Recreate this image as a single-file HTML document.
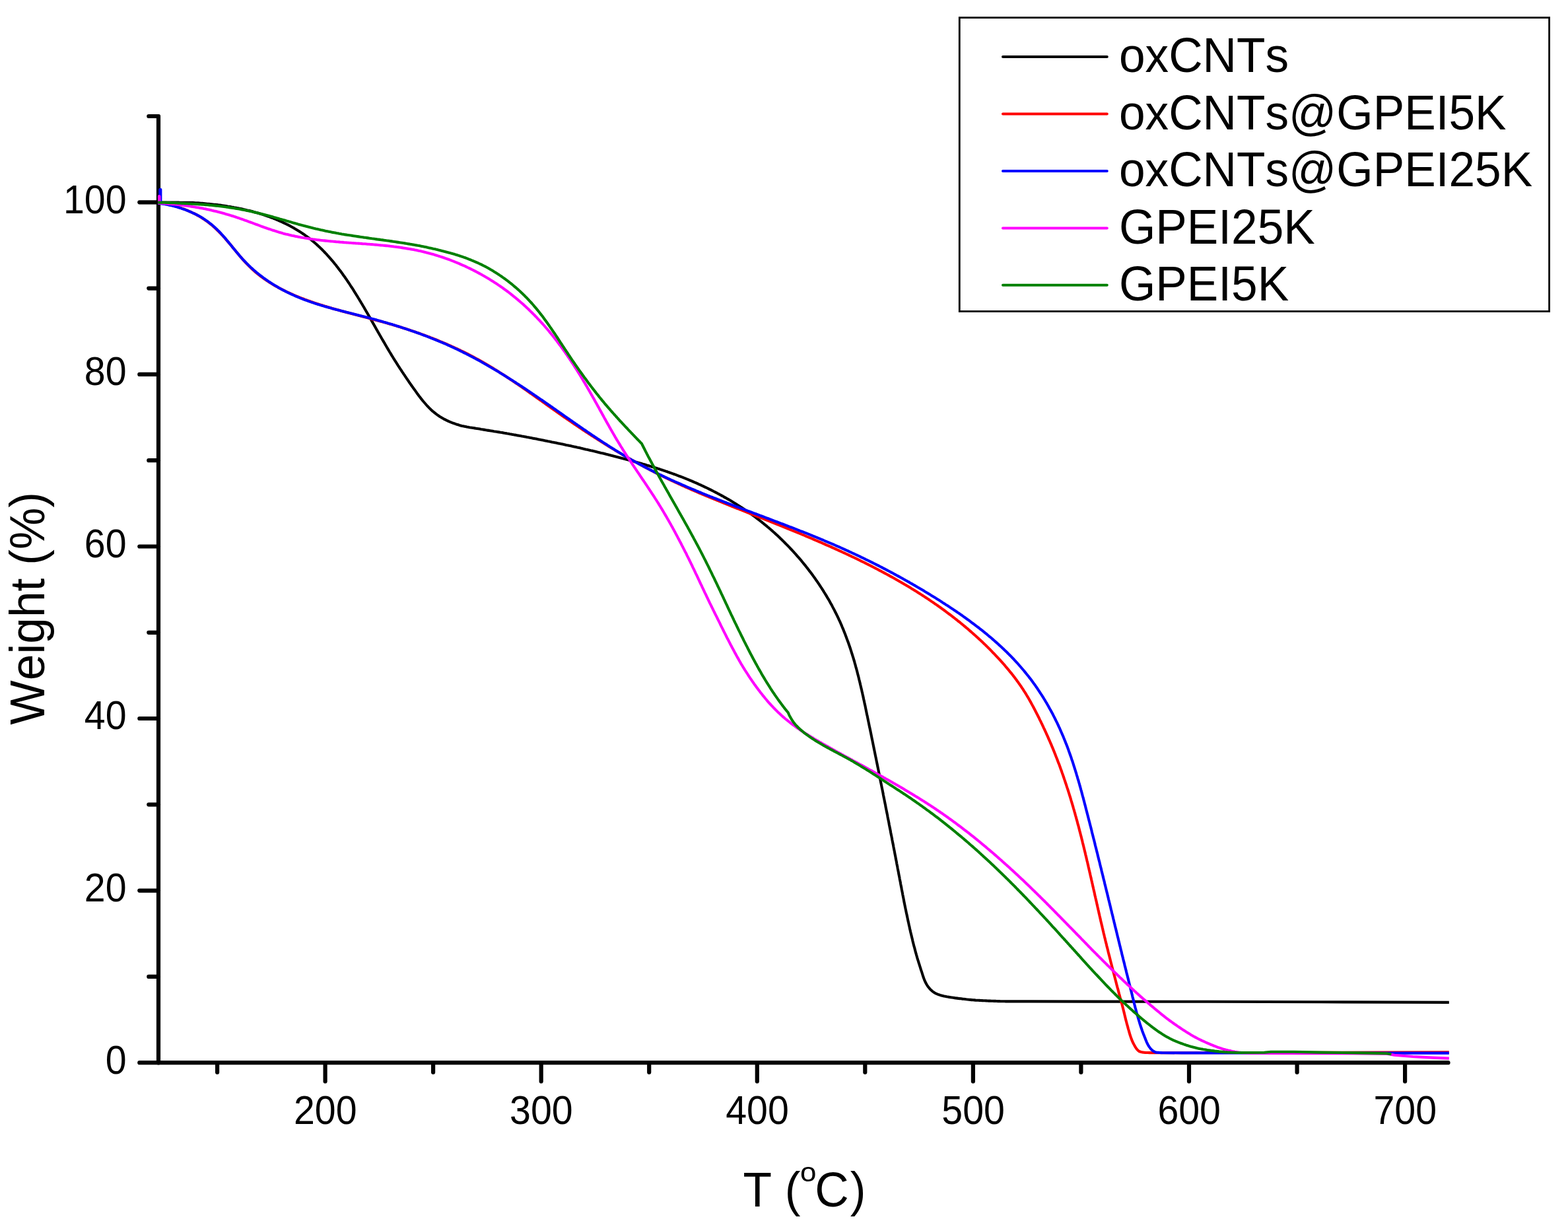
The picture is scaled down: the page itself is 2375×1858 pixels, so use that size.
<!DOCTYPE html>
<html lang="en"><head><meta charset="utf-8"><title>TGA curves</title>
<style>html,body{margin:0;padding:0;background:#fff}body{width:2375px;height:1858px}svg{display:block}text{font-family:"Liberation Sans", Arial, Helvetica, sans-serif;fill:#000;font-kerning:none;font-variant-ligatures:none;letter-spacing:0}.tk{font-size:57.3px}.tt{font-size:71.3px}.lg{font-size:71.2px}.ax{stroke:#000;stroke-width:6.2;stroke-linecap:round;fill:none}.cv{fill:none;stroke-width:4.1;stroke-linejoin:round;stroke-linecap:butt}.ls{fill:none;stroke-width:4;stroke-linecap:round}</style></head><body>
<svg width="2375" height="1858" viewBox="0 0 2375 1858" role="img" aria-label="TGA weight loss curves">
<rect x="0" y="0" width="2375" height="1858" fill="#ffffff"/>
<g class="ax">
<path d="M240.0,176.4 L240.0,1609.2"/>
<path d="M240.0,1609.2 L2193.5,1609.2"/>
<path d="M211.3,1609.2 L240.0,1609.2"/>
<path d="M225.3,1478.9 L240.0,1478.9"/>
<path d="M211.3,1348.6 L240.0,1348.6"/>
<path d="M225.3,1218.3 L240.0,1218.3"/>
<path d="M211.3,1088.0 L240.0,1088.0"/>
<path d="M225.3,957.8 L240.0,957.8"/>
<path d="M211.3,827.5 L240.0,827.5"/>
<path d="M225.3,697.2 L240.0,697.2"/>
<path d="M211.3,566.9 L240.0,566.9"/>
<path d="M225.3,436.6 L240.0,436.6"/>
<path d="M211.3,306.3 L240.0,306.3"/>
<path d="M225.3,176.0 L240.0,176.0"/>
<path d="M329.1,1609.2 L329.1,1623.7"/>
<path d="M492.6,1609.2 L492.6,1637.4"/>
<path d="M656.1,1609.2 L656.1,1623.7"/>
<path d="M819.7,1609.2 L819.7,1637.4"/>
<path d="M983.2,1609.2 L983.2,1623.7"/>
<path d="M1146.8,1609.2 L1146.8,1637.4"/>
<path d="M1310.3,1609.2 L1310.3,1623.7"/>
<path d="M1473.9,1609.2 L1473.9,1637.4"/>
<path d="M1637.4,1609.2 L1637.4,1623.7"/>
<path d="M1801.0,1609.2 L1801.0,1637.4"/>
<path d="M1964.6,1609.2 L1964.6,1623.7"/>
<path d="M2128.1,1609.2 L2128.1,1637.4"/>
</g>
<g>
<path class="cv" stroke="#000000" d="M239.2,306.6 L241.1,306.6 L243.0,306.6 L244.9,306.6 L246.9,306.6 L248.8,306.6 L250.8,306.6 L252.7,306.6 L254.6,306.6 L256.6,306.6 L258.5,306.6 L260.5,306.6 L262.5,306.6 L264.4,306.6 L266.4,306.6 L268.3,306.6 L270.3,306.6 L272.3,306.7 L274.3,306.7 L276.2,306.7 L278.2,306.7 L280.2,306.7 L282.2,306.7 L284.2,306.7 L286.2,306.7 L288.2,306.8 L290.2,306.9 L292.2,306.9 L294.2,307.0 L296.2,307.2 L298.2,307.3 L300.2,307.4 L302.3,307.6 L304.3,307.8 L306.3,307.9 L308.4,308.1 L310.4,308.3 L312.4,308.5 L314.4,308.7 L316.5,308.9 L318.5,309.1 L320.5,309.3 L322.5,309.5 L324.5,309.7 L326.6,309.9 L328.6,310.1 L330.6,310.4 L332.6,310.6 L334.7,310.9 L336.7,311.2 L338.7,311.5 L340.7,311.8 L342.7,312.1 L344.8,312.5 L346.8,312.8 L348.8,313.1 L350.8,313.5 L352.8,313.8 L354.8,314.2 L356.8,314.5 L358.8,314.9 L360.8,315.3 L362.8,315.7 L364.8,316.1 L366.8,316.5 L368.8,317.0 L370.8,317.4 L372.7,317.9 L374.7,318.4 L376.7,318.8 L378.6,319.3 L380.6,319.8 L382.5,320.3 L384.5,320.9 L386.4,321.4 L388.4,322.0 L390.3,322.5 L392.2,323.1 L394.2,323.7 L396.1,324.3 L398.0,324.9 L399.9,325.5 L401.8,326.2 L403.7,326.8 L405.6,327.5 L407.5,328.1 L409.4,328.8 L411.2,329.5 L413.1,330.2 L414.9,331.0 L416.8,331.7 L418.6,332.5 L420.4,333.2 L422.3,334.0 L424.1,334.8 L425.9,335.6 L427.7,336.4 L429.5,337.3 L431.3,338.1 L433.0,339.0 L434.8,339.8 L436.6,340.7 L438.3,341.6 L440.0,342.6 L441.8,343.5 L443.5,344.5 L445.2,345.4 L446.9,346.4 L448.6,347.4 L450.3,348.4 L451.9,349.4 L453.6,350.5 L455.2,351.5 L456.9,352.6 L458.5,353.7 L460.1,354.8 L461.7,355.9 L463.3,357.1 L464.9,358.2 L466.4,359.4 L468.0,360.5 L469.5,361.7 L471.1,363.0 L472.6,364.2 L474.1,365.4 L475.6,366.7 L477.1,368.0 L478.6,369.3 L480.0,370.6 L481.5,371.9 L482.9,373.3 L484.3,374.6 L485.8,376.0 L487.2,377.3 L488.6,378.7 L490.0,380.1 L491.3,381.5 L492.7,383.0 L494.1,384.4 L495.4,385.9 L496.7,387.3 L498.1,388.8 L499.4,390.3 L500.7,391.8 L502.0,393.3 L503.3,394.8 L504.6,396.4 L505.9,397.9 L507.1,399.5 L508.4,401.0 L509.6,402.6 L510.9,404.2 L512.1,405.8 L513.3,407.4 L514.5,409.0 L515.8,410.6 L517.0,412.2 L518.2,413.9 L519.3,415.5 L520.5,417.2 L521.7,418.8 L522.9,420.5 L524.0,422.1 L525.2,423.8 L526.3,425.5 L527.5,427.2 L528.6,428.8 L529.7,430.5 L530.8,432.3 L531.9,434.0 L533.1,435.7 L534.2,437.4 L535.3,439.1 L536.3,440.9 L537.4,442.6 L538.5,444.3 L539.6,446.1 L540.7,447.8 L541.7,449.5 L542.8,451.3 L543.9,453.0 L544.9,454.8 L546.0,456.5 L547.0,458.3 L548.1,460.0 L549.1,461.8 L550.1,463.5 L551.2,465.3 L552.2,467.1 L553.2,468.8 L554.2,470.6 L555.2,472.3 L556.3,474.1 L557.3,475.9 L558.3,477.6 L559.3,479.4 L560.3,481.1 L561.3,482.9 L562.3,484.6 L563.3,486.4 L564.3,488.1 L565.3,489.9 L566.3,491.6 L567.3,493.4 L568.3,495.1 L569.2,496.8 L570.2,498.6 L571.2,500.3 L572.2,502.1 L573.2,503.8 L574.2,505.5 L575.2,507.3 L576.2,509.0 L577.2,510.7 L578.2,512.5 L579.2,514.2 L580.2,515.9 L581.2,517.6 L582.2,519.3 L583.2,521.1 L584.2,522.8 L585.2,524.5 L586.2,526.2 L587.2,527.9 L588.2,529.6 L589.2,531.3 L590.2,533.0 L591.3,534.7 L592.3,536.4 L593.3,538.1 L594.4,539.8 L595.4,541.5 L596.4,543.2 L597.5,544.9 L598.6,546.6 L599.6,548.2 L600.7,549.9 L601.8,551.6 L602.8,553.3 L603.9,554.9 L605.0,556.6 L606.1,558.3 L607.2,559.9 L608.3,561.6 L609.4,563.3 L610.5,564.9 L611.6,566.6 L612.7,568.2 L613.8,569.9 L614.9,571.5 L616.0,573.2 L617.2,574.8 L618.3,576.5 L619.4,578.1 L620.5,579.8 L621.7,581.4 L622.8,583.0 L624.0,584.7 L625.1,586.3 L626.3,587.9 L627.4,589.5 L628.6,591.1 L629.7,592.7 L630.9,594.4 L632.0,596.0 L633.2,597.6 L634.4,599.2 L635.6,600.7 L636.8,602.3 L638.0,603.9 L639.3,605.4 L640.5,607.0 L641.8,608.5 L643.1,610.0 L644.4,611.5 L645.7,613.0 L647.0,614.5 L648.4,615.9 L649.8,617.4 L651.2,618.8 L652.7,620.2 L654.1,621.6 L655.6,622.9 L657.2,624.1 L658.7,625.4 L660.3,626.7 L661.9,627.9 L663.5,629.0 L665.2,630.2 L666.9,631.3 L668.6,632.3 L670.3,633.3 L672.0,634.3 L673.8,635.2 L675.6,636.1 L677.4,637.0 L679.3,637.8 L681.1,638.6 L682.9,639.3 L684.8,640.1 L686.6,640.8 L688.5,641.4 L690.3,642.1 L692.2,642.7 L694.1,643.3 L696.0,643.9 L697.8,644.4 L699.7,644.9 L701.6,645.3 L703.5,645.7 L705.4,646.1 L707.3,646.5 L709.3,646.8 L711.2,647.2 L713.1,647.5 L715.0,647.8 L716.9,648.1 L718.9,648.4 L720.8,648.7 L722.7,649.0 L724.7,649.3 L726.6,649.6 L728.6,650.0 L730.5,650.3 L732.5,650.6 L734.5,650.9 L736.4,651.3 L738.4,651.6 L740.4,651.9 L742.4,652.2 L744.3,652.5 L746.3,652.8 L748.3,653.2 L750.3,653.5 L752.3,653.8 L754.3,654.1 L756.3,654.4 L758.3,654.8 L760.2,655.1 L762.2,655.4 L764.2,655.8 L766.2,656.1 L768.2,656.5 L770.2,656.8 L772.2,657.2 L774.2,657.5 L776.2,657.9 L778.2,658.3 L780.2,658.6 L782.2,659.0 L784.2,659.4 L786.3,659.7 L788.3,660.1 L790.3,660.5 L792.3,660.8 L794.3,661.2 L796.3,661.6 L798.3,662.0 L800.3,662.3 L802.3,662.7 L804.3,663.1 L806.3,663.5 L808.3,663.9 L810.3,664.2 L812.3,664.6 L814.2,665.0 L816.2,665.4 L818.2,665.8 L820.2,666.2 L822.2,666.6 L824.2,667.0 L826.2,667.4 L828.2,667.8 L830.2,668.2 L832.1,668.5 L834.1,668.9 L836.1,669.4 L838.1,669.8 L840.1,670.2 L842.1,670.6 L844.0,671.0 L846.0,671.4 L848.0,671.8 L850.0,672.2 L851.9,672.6 L853.9,673.0 L855.9,673.4 L857.8,673.9 L859.8,674.3 L861.8,674.7 L863.7,675.1 L865.7,675.6 L867.7,676.0 L869.6,676.4 L871.6,676.8 L873.5,677.3 L875.5,677.7 L877.5,678.1 L879.4,678.6 L881.4,679.0 L883.3,679.5 L885.3,679.9 L887.2,680.4 L889.2,680.8 L891.1,681.3 L893.1,681.7 L895.0,682.2 L897.0,682.6 L898.9,683.1 L900.9,683.5 L902.8,684.0 L904.8,684.5 L906.7,684.9 L908.6,685.4 L910.6,685.9 L912.5,686.3 L914.5,686.8 L916.4,687.3 L918.3,687.8 L920.3,688.2 L922.2,688.7 L924.1,689.2 L926.0,689.7 L928.0,690.2 L929.9,690.7 L931.8,691.2 L933.7,691.7 L935.7,692.2 L937.6,692.7 L939.5,693.2 L941.4,693.7 L943.4,694.2 L945.3,694.7 L947.2,695.2 L949.1,695.7 L951.0,696.2 L952.9,696.8 L954.8,697.3 L956.8,697.8 L958.7,698.3 L960.6,698.9 L962.5,699.4 L964.4,699.9 L966.3,700.5 L968.2,701.0 L970.1,701.6 L972.0,702.1 L973.9,702.7 L975.8,703.2 L977.7,703.8 L979.6,704.4 L981.5,704.9 L983.4,705.5 L985.3,706.1 L987.2,706.7 L989.1,707.2 L991.0,707.8 L992.8,708.4 L994.7,709.0 L996.6,709.6 L998.5,710.2 L1000.4,710.9 L1002.3,711.5 L1004.2,712.1 L1006.0,712.7 L1007.9,713.4 L1009.8,714.0 L1011.7,714.7 L1013.5,715.3 L1015.4,716.0 L1017.3,716.6 L1019.2,717.3 L1021.0,718.0 L1022.9,718.7 L1024.8,719.4 L1026.6,720.1 L1028.5,720.8 L1030.4,721.5 L1032.2,722.2 L1034.1,722.9 L1036.0,723.7 L1037.8,724.4 L1039.7,725.2 L1041.5,725.9 L1043.4,726.7 L1045.3,727.5 L1047.1,728.2 L1049.0,729.0 L1050.8,729.8 L1052.7,730.6 L1054.5,731.4 L1056.3,732.2 L1058.2,733.1 L1060.0,733.9 L1061.8,734.7 L1063.7,735.6 L1065.5,736.4 L1067.3,737.3 L1069.2,738.2 L1071.0,739.0 L1072.8,739.9 L1074.6,740.8 L1076.4,741.7 L1078.2,742.6 L1080.0,743.5 L1081.8,744.5 L1083.6,745.4 L1085.4,746.3 L1087.2,747.3 L1089.0,748.2 L1090.7,749.2 L1092.5,750.1 L1094.3,751.1 L1096.0,752.1 L1097.8,753.1 L1099.6,754.1 L1101.3,755.1 L1103.1,756.1 L1104.8,757.1 L1106.5,758.1 L1108.2,759.1 L1110.0,760.2 L1111.7,761.2 L1113.4,762.3 L1115.1,763.3 L1116.8,764.4 L1118.5,765.5 L1120.2,766.5 L1121.9,767.6 L1123.6,768.7 L1125.2,769.8 L1126.9,770.9 L1128.5,772.1 L1130.2,773.2 L1131.8,774.3 L1133.5,775.4 L1135.1,776.6 L1136.7,777.7 L1138.3,778.9 L1140.0,780.1 L1141.6,781.3 L1143.2,782.4 L1144.8,783.6 L1146.3,784.8 L1147.9,786.0 L1149.5,787.2 L1151.1,788.5 L1152.6,789.7 L1154.2,790.9 L1155.7,792.2 L1157.3,793.4 L1158.8,794.7 L1160.3,795.9 L1161.9,797.2 L1163.4,798.5 L1164.9,799.7 L1166.4,801.0 L1167.9,802.3 L1169.4,803.6 L1170.9,805.0 L1172.4,806.3 L1173.8,807.6 L1175.3,808.9 L1176.8,810.3 L1178.2,811.6 L1179.7,813.0 L1181.1,814.3 L1182.5,815.7 L1184.0,817.1 L1185.4,818.5 L1186.8,819.9 L1188.2,821.3 L1189.6,822.7 L1191.0,824.1 L1192.4,825.5 L1193.8,826.9 L1195.2,828.4 L1196.6,829.8 L1197.9,831.3 L1199.3,832.7 L1200.6,834.2 L1202.0,835.6 L1203.3,837.1 L1204.7,838.6 L1206.0,840.1 L1207.3,841.6 L1208.6,843.1 L1210.0,844.6 L1211.3,846.1 L1212.6,847.7 L1213.9,849.2 L1215.1,850.7 L1216.4,852.3 L1217.7,853.8 L1218.9,855.4 L1220.2,856.9 L1221.4,858.5 L1222.7,860.1 L1223.9,861.7 L1225.1,863.3 L1226.3,864.9 L1227.6,866.5 L1228.8,868.1 L1230.0,869.7 L1231.2,871.3 L1232.3,872.9 L1233.5,874.6 L1234.7,876.2 L1235.8,877.9 L1237.0,879.5 L1238.1,881.1 L1239.3,882.8 L1240.4,884.5 L1241.5,886.1 L1242.6,887.8 L1243.7,889.5 L1244.8,891.2 L1245.9,892.9 L1247.0,894.6 L1248.0,896.3 L1249.1,898.0 L1250.1,899.7 L1251.2,901.4 L1252.2,903.1 L1253.2,904.9 L1254.3,906.6 L1255.3,908.3 L1256.3,910.1 L1257.2,911.8 L1258.2,913.6 L1259.2,915.3 L1260.2,917.1 L1261.1,918.9 L1262.0,920.6 L1263.0,922.4 L1263.9,924.2 L1264.8,926.0 L1265.7,927.8 L1266.6,929.5 L1267.5,931.3 L1268.4,933.1 L1269.2,934.9 L1270.1,936.7 L1270.9,938.6 L1271.8,940.4 L1272.6,942.2 L1273.4,944.0 L1274.2,945.9 L1275.0,947.7 L1275.7,949.5 L1276.5,951.4 L1277.3,953.2 L1278.0,955.0 L1278.7,956.9 L1279.5,958.8 L1280.2,960.6 L1280.9,962.5 L1281.6,964.3 L1282.3,966.2 L1283.0,968.1 L1283.7,969.9 L1284.4,971.8 L1285.1,973.7 L1285.7,975.6 L1286.4,977.4 L1287.0,979.3 L1287.7,981.2 L1288.3,983.1 L1288.9,985.0 L1289.5,986.9 L1290.1,988.8 L1290.7,990.7 L1291.3,992.6 L1291.9,994.5 L1292.5,996.4 L1293.1,998.3 L1293.6,1000.2 L1294.2,1002.1 L1294.7,1004.1 L1295.3,1006.0 L1295.8,1007.9 L1296.3,1009.8 L1296.9,1011.8 L1297.4,1013.7 L1297.9,1015.6 L1298.4,1017.5 L1298.9,1019.5 L1299.4,1021.4 L1299.9,1023.3 L1300.4,1025.3 L1300.9,1027.2 L1301.3,1029.2 L1301.8,1031.1 L1302.3,1033.1 L1302.8,1035.0 L1303.2,1037.0 L1303.7,1038.9 L1304.1,1040.8 L1304.6,1042.8 L1305.1,1044.7 L1305.5,1046.7 L1306.0,1048.7 L1306.4,1050.6 L1306.8,1052.6 L1307.3,1054.5 L1307.7,1056.5 L1308.1,1058.4 L1308.6,1060.4 L1309.0,1062.3 L1309.4,1064.3 L1309.8,1066.3 L1310.3,1068.2 L1310.7,1070.2 L1311.1,1072.2 L1311.5,1074.1 L1311.9,1076.1 L1312.3,1078.0 L1312.7,1080.0 L1313.1,1082.0 L1313.6,1083.9 L1314.0,1085.9 L1314.4,1087.9 L1314.8,1089.8 L1315.2,1091.8 L1315.6,1093.7 L1316.0,1095.7 L1316.4,1097.7 L1316.8,1099.6 L1317.2,1101.6 L1317.7,1103.6 L1318.1,1105.5 L1318.5,1107.5 L1318.9,1109.4 L1319.3,1111.4 L1319.7,1113.4 L1320.1,1115.3 L1320.5,1117.3 L1320.9,1119.3 L1321.3,1121.2 L1321.7,1123.2 L1322.1,1125.1 L1322.5,1127.1 L1322.9,1129.1 L1323.3,1131.0 L1323.7,1133.0 L1324.1,1135.0 L1324.5,1136.9 L1324.9,1138.9 L1325.3,1140.8 L1325.7,1142.8 L1326.1,1144.8 L1326.5,1146.7 L1326.9,1148.7 L1327.3,1150.6 L1327.7,1152.6 L1328.1,1154.6 L1328.5,1156.5 L1328.9,1158.5 L1329.3,1160.5 L1329.7,1162.4 L1330.1,1164.4 L1330.5,1166.3 L1330.9,1168.3 L1331.3,1170.3 L1331.7,1172.2 L1332.1,1174.2 L1332.4,1176.1 L1332.8,1178.1 L1333.2,1180.1 L1333.6,1182.0 L1334.0,1184.0 L1334.4,1185.9 L1334.8,1187.9 L1335.2,1189.9 L1335.6,1191.8 L1336.0,1193.8 L1336.4,1195.7 L1336.8,1197.7 L1337.2,1199.6 L1337.6,1201.6 L1337.9,1203.6 L1338.3,1205.5 L1338.7,1207.5 L1339.1,1209.4 L1339.5,1211.4 L1339.9,1213.4 L1340.3,1215.3 L1340.7,1217.3 L1341.1,1219.2 L1341.4,1221.2 L1341.8,1223.2 L1342.2,1225.1 L1342.6,1227.1 L1343.0,1229.0 L1343.4,1231.0 L1343.8,1232.9 L1344.2,1234.9 L1344.5,1236.9 L1344.9,1238.8 L1345.3,1240.8 L1345.7,1242.7 L1346.1,1244.7 L1346.5,1246.7 L1346.8,1248.6 L1347.2,1250.6 L1347.6,1252.5 L1348.0,1254.5 L1348.4,1256.4 L1348.8,1258.4 L1349.1,1260.4 L1349.5,1262.3 L1349.9,1264.3 L1350.3,1266.2 L1350.7,1268.2 L1351.1,1270.1 L1351.4,1272.1 L1351.8,1274.1 L1352.2,1276.0 L1352.6,1278.0 L1353.0,1279.9 L1353.3,1281.9 L1353.7,1283.8 L1354.1,1285.8 L1354.5,1287.8 L1354.9,1289.7 L1355.2,1291.7 L1355.6,1293.6 L1356.0,1295.6 L1356.4,1297.5 L1356.7,1299.5 L1357.1,1301.5 L1357.5,1303.4 L1357.9,1305.4 L1358.2,1307.3 L1358.6,1309.3 L1359.0,1311.2 L1359.4,1313.2 L1359.7,1315.1 L1360.1,1317.1 L1360.5,1319.1 L1360.9,1321.0 L1361.2,1323.0 L1361.6,1324.9 L1362.0,1326.9 L1362.4,1328.8 L1362.7,1330.8 L1363.1,1332.8 L1363.5,1334.7 L1363.9,1336.7 L1364.2,1338.6 L1364.6,1340.6 L1365.0,1342.5 L1365.4,1344.5 L1365.7,1346.4 L1366.1,1348.4 L1366.5,1350.4 L1366.9,1352.3 L1367.2,1354.3 L1367.6,1356.2 L1368.0,1358.2 L1368.4,1360.1 L1368.8,1362.1 L1369.1,1364.0 L1369.5,1366.0 L1369.9,1368.0 L1370.3,1369.9 L1370.7,1371.9 L1371.1,1373.8 L1371.5,1375.8 L1371.9,1377.7 L1372.3,1379.7 L1372.7,1381.6 L1373.1,1383.6 L1373.6,1385.5 L1374.0,1387.5 L1374.4,1389.4 L1374.8,1391.4 L1375.2,1393.3 L1375.6,1395.3 L1376.1,1397.3 L1376.5,1399.2 L1376.9,1401.2 L1377.4,1403.1 L1377.8,1405.1 L1378.2,1407.0 L1378.7,1409.0 L1379.1,1411.0 L1379.6,1412.9 L1380.1,1414.9 L1380.5,1416.8 L1381.0,1418.8 L1381.5,1420.8 L1382.0,1422.8 L1382.4,1424.7 L1382.9,1426.7 L1383.4,1428.7 L1383.9,1430.7 L1384.4,1432.6 L1385.0,1434.6 L1385.5,1436.6 L1386.0,1438.5 L1386.5,1440.5 L1387.0,1442.4 L1387.6,1444.3 L1388.1,1446.3 L1388.7,1448.2 L1389.2,1450.1 L1389.8,1452.1 L1390.4,1454.0 L1391.0,1455.9 L1391.6,1457.8 L1392.2,1459.7 L1392.8,1461.6 L1393.4,1463.5 L1394.0,1465.4 L1394.6,1467.3 L1395.2,1469.2 L1395.9,1471.1 L1396.5,1473.0 L1397.1,1475.0 L1397.7,1476.9 L1398.3,1478.8 L1399.0,1480.7 L1399.7,1482.6 L1400.4,1484.4 L1401.2,1486.3 L1402.1,1488.0 L1403.0,1489.8 L1404.0,1491.5 L1405.1,1493.2 L1406.3,1494.8 L1407.6,1496.4 L1408.9,1497.9 L1410.3,1499.2 L1411.8,1500.6 L1413.4,1501.8 L1415.1,1503.0 L1416.8,1504.1 L1418.6,1504.9 L1420.4,1505.6 L1422.2,1506.3 L1424.2,1506.9 L1426.1,1507.4 L1428.1,1507.9 L1430.1,1508.4 L1432.0,1508.8 L1434.0,1509.2 L1436.0,1509.5 L1437.9,1509.9 L1439.9,1510.2 L1441.9,1510.5 L1443.9,1510.8 L1445.9,1511.1 L1447.8,1511.4 L1449.8,1511.6 L1451.8,1511.9 L1453.8,1512.1 L1455.8,1512.3 L1457.8,1512.6 L1459.8,1512.8 L1461.8,1513.0 L1463.7,1513.3 L1465.7,1513.5 L1467.7,1513.7 L1469.7,1513.9 L1471.7,1514.1 L1473.7,1514.3 L1475.7,1514.4 L1477.7,1514.6 L1479.7,1514.7 L1481.7,1514.8 L1483.7,1514.9 L1485.7,1515.0 L1487.7,1515.1 L1489.7,1515.2 L1491.7,1515.3 L1493.7,1515.4 L1495.7,1515.5 L1497.7,1515.6 L1499.7,1515.6 L1501.7,1515.7 L1503.7,1515.8 L1505.7,1515.9 L1507.6,1515.9 L1509.6,1516.0 L1511.6,1516.1 L1513.6,1516.1 L1515.6,1516.2 L1517.6,1516.2 L1519.6,1516.3 L1521.6,1516.3 L1523.2,1516.4 L1560.0,1516.4 L1660.0,1516.6 L1830.0,1516.8 L2000.0,1517.3 L2194.8,1517.9"/>
<path class="cv" stroke="#ff0000" d="M239.4,307.0 L241.4,307.2 L243.4,307.5 L245.3,307.8 L247.3,308.2 L249.3,308.5 L251.3,308.9 L253.2,309.3 L255.2,309.7 L257.1,310.1 L259.1,310.6 L261.0,311.0 L263.0,311.5 L264.9,312.1 L266.8,312.6 L268.8,313.2 L270.7,313.8 L272.6,314.5 L274.5,315.1 L276.4,315.8 L278.3,316.4 L280.1,317.2 L282.0,317.9 L283.9,318.7 L285.7,319.5 L287.5,320.3 L289.4,321.1 L291.2,322.0 L293.0,322.8 L294.8,323.7 L296.6,324.6 L298.3,325.6 L300.1,326.6 L301.8,327.6 L303.5,328.6 L305.2,329.6 L306.9,330.7 L308.6,331.8 L310.2,332.9 L311.8,334.0 L313.5,335.2 L315.1,336.4 L316.7,337.6 L318.2,338.8 L319.8,340.0 L321.3,341.3 L322.8,342.6 L324.3,343.9 L325.8,345.2 L327.2,346.6 L328.6,348.0 L330.1,349.4 L331.5,350.8 L332.9,352.2 L334.3,353.6 L335.6,355.1 L337.0,356.5 L338.3,358.0 L339.7,359.5 L341.0,361.0 L342.3,362.6 L343.6,364.1 L344.9,365.6 L346.2,367.1 L347.5,368.7 L348.8,370.2 L350.1,371.7 L351.4,373.3 L352.6,374.9 L353.9,376.4 L355.2,378.0 L356.5,379.5 L357.8,381.1 L359.1,382.6 L360.4,384.2 L361.6,385.7 L362.9,387.3 L364.2,388.8 L365.5,390.3 L366.9,391.8 L368.2,393.3 L369.5,394.8 L370.9,396.3 L372.2,397.8 L373.6,399.2 L375.0,400.7 L376.4,402.1 L377.8,403.5 L379.2,404.9 L380.6,406.3 L382.1,407.6 L383.5,409.0 L385.0,410.3 L386.5,411.6 L388.0,412.9 L389.6,414.2 L391.1,415.4 L392.7,416.6 L394.2,417.8 L395.8,419.0 L397.4,420.2 L399.0,421.4 L400.6,422.5 L402.3,423.7 L403.9,424.8 L405.6,425.9 L407.3,427.0 L408.9,428.0 L410.6,429.1 L412.3,430.1 L414.1,431.2 L415.8,432.2 L417.5,433.2 L419.3,434.1 L421.0,435.1 L422.8,436.1 L424.6,437.0 L426.3,437.9 L428.1,438.8 L429.9,439.7 L431.7,440.6 L433.5,441.5 L435.3,442.3 L437.2,443.2 L439.0,444.0 L440.8,444.9 L442.7,445.7 L444.5,446.5 L446.4,447.3 L448.2,448.1 L450.1,448.8 L451.9,449.6 L453.8,450.4 L455.7,451.1 L457.5,451.8 L459.4,452.5 L461.3,453.3 L463.2,454.0 L465.1,454.6 L467.0,455.3 L468.8,456.0 L470.7,456.7 L472.6,457.3 L474.5,458.0 L476.4,458.6 L478.3,459.3 L480.2,459.9 L482.1,460.5 L484.0,461.1 L485.9,461.7 L487.8,462.3 L489.7,462.9 L491.6,463.5 L493.5,464.1 L495.4,464.6 L497.3,465.2 L499.2,465.8 L501.1,466.3 L503.0,466.9 L504.9,467.4 L506.8,468.0 L508.7,468.5 L510.6,469.1 L512.6,469.6 L514.5,470.1 L516.4,470.7 L518.3,471.2 L520.2,471.7 L522.1,472.3 L524.0,472.8 L525.9,473.3 L527.9,473.8 L529.8,474.3 L531.7,474.8 L533.6,475.3 L535.5,475.8 L537.5,476.3 L539.4,476.8 L541.3,477.3 L543.2,477.8 L545.1,478.3 L547.1,478.8 L549.0,479.3 L550.9,479.8 L552.8,480.3 L554.7,480.8 L556.7,481.3 L558.6,481.8 L560.5,482.4 L562.4,482.9 L564.4,483.4 L566.3,483.9 L568.2,484.4 L570.1,484.9 L572.1,485.4 L574.0,486.0 L575.9,486.5 L577.8,487.0 L579.8,487.5 L581.7,488.0 L583.6,488.6 L585.5,489.1 L587.5,489.7 L589.4,490.2 L591.3,490.8 L593.2,491.3 L595.1,491.9 L597.1,492.4 L599.0,493.0 L600.9,493.6 L602.8,494.2 L604.8,494.8 L606.7,495.4 L608.6,496.0 L610.5,496.6 L612.4,497.2 L614.4,497.8 L616.3,498.4 L618.2,499.1 L620.1,499.7 L622.0,500.3 L623.9,501.0 L625.9,501.6 L627.8,502.3 L629.7,502.9 L631.6,503.6 L633.5,504.2 L635.4,504.9 L637.3,505.6 L639.2,506.3 L641.1,507.0 L643.0,507.7 L644.9,508.4 L646.8,509.1 L648.7,509.8 L650.6,510.5 L652.5,511.3 L654.4,512.0 L656.3,512.7 L658.1,513.5 L660.0,514.2 L661.9,515.0 L663.8,515.7 L665.6,516.5 L667.5,517.3 L669.4,518.0 L671.2,518.8 L673.1,519.6 L674.9,520.4 L676.8,521.2 L678.6,522.0 L680.5,522.8 L682.3,523.6 L684.2,524.5 L686.0,525.3 L687.8,526.1 L689.7,527.0 L691.5,527.8 L693.3,528.7 L695.1,529.5 L696.9,530.4 L698.7,531.3 L700.6,532.1 L702.4,533.0 L704.2,533.9 L705.9,534.8 L707.7,535.7 L709.5,536.6 L711.3,537.5 L713.1,538.5 L714.8,539.4 L716.6,540.3 L718.4,541.3 L720.1,542.2 L721.9,543.2 L723.6,544.1 L725.4,545.1 L727.1,546.0 L728.8,547.0 L730.6,548.0 L732.3,549.0 L734.0,550.0 L735.7,551.0 L737.4,552.0 L739.1,553.0 L740.8,554.0 L742.5,555.0 L744.2,556.1 L745.9,557.1 L747.6,558.1 L749.3,559.2 L751.0,560.2 L752.7,561.3 L754.3,562.3 L756.0,563.4 L757.7,564.4 L759.3,565.5 L761.0,566.6 L762.7,567.6 L764.3,568.7 L766.0,569.8 L767.6,570.9 L769.3,572.0 L770.9,573.1 L772.6,574.2 L774.2,575.3 L775.9,576.4 L777.5,577.5 L779.2,578.6 L780.8,579.7 L782.4,580.8 L784.1,581.9 L785.7,583.0 L787.3,584.1 L789.0,585.2 L790.6,586.4 L792.2,587.5 L793.8,588.6 L795.5,589.8 L797.1,590.9 L798.7,592.0 L800.3,593.2 L801.9,594.3 L803.5,595.5 L805.2,596.6 L806.8,597.7 L808.4,598.9 L810.0,600.0 L811.6,601.2 L813.3,602.3 L814.9,603.5 L816.5,604.6 L818.1,605.8 L819.7,606.9 L821.4,608.1 L823.0,609.2 L824.6,610.4 L826.2,611.5 L827.8,612.7 L829.5,613.8 L831.1,615.0 L832.7,616.1 L834.3,617.3 L836.0,618.5 L837.6,619.6 L839.2,620.8 L840.8,621.9 L842.5,623.1 L844.1,624.2 L845.7,625.4 L847.3,626.5 L849.0,627.7 L850.6,628.8 L852.3,630.0 L853.9,631.1 L855.5,632.3 L857.2,633.4 L858.8,634.5 L860.5,635.7 L862.1,636.8 L863.8,637.9 L865.5,639.1 L867.1,640.2 L868.8,641.3 L870.4,642.5 L872.1,643.6 L873.8,644.7 L875.4,645.9 L877.1,647.0 L878.8,648.1 L880.5,649.2 L882.1,650.3 L883.8,651.5 L885.5,652.6 L887.2,653.7 L888.9,654.8 L890.5,655.9 L892.2,657.0 L893.9,658.1 L895.6,659.2 L897.3,660.3 L899.0,661.4 L900.7,662.5 L902.4,663.6 L904.1,664.6 L905.8,665.7 L907.5,666.8 L909.2,667.9 L910.9,669.0 L912.6,670.0 L914.4,671.1 L916.1,672.2 L917.8,673.2 L919.5,674.3 L921.2,675.4 L922.9,676.4 L924.7,677.5 L926.4,678.5 L928.1,679.6 L929.8,680.6 L931.6,681.7 L933.3,682.7 L935.0,683.8 L936.8,684.8 L938.5,685.8 L940.2,686.8 L942.0,687.9 L943.7,688.9 L945.5,689.9 L947.2,690.9 L949.0,691.9 L950.7,692.9 L952.5,693.9 L954.2,694.9 L956.0,695.9 L957.7,696.9 L959.5,697.9 L961.2,698.9 L963.0,699.8 L964.8,700.8 L966.5,701.8 L968.3,702.7 L970.1,703.7 L971.8,704.7 L973.6,705.6 L975.4,706.6 L977.1,707.5 L978.9,708.5 L980.7,709.4 L982.4,710.3 L984.2,711.3 L986.0,712.2 L987.8,713.1 L989.5,714.1 L991.3,715.0 L993.1,715.9 L994.9,716.8 L996.7,717.7 L998.5,718.6 L1000.3,719.5 L1002.0,720.4 L1003.8,721.2 L1005.6,722.1 L1007.4,723.0 L1009.2,723.9 L1011.0,724.7 L1012.8,725.6 L1014.6,726.4 L1016.4,727.3 L1018.2,728.1 L1020.0,729.0 L1021.8,729.8 L1023.6,730.7 L1025.4,731.5 L1027.2,732.3 L1029.0,733.2 L1030.8,734.0 L1032.6,734.8 L1034.4,735.6 L1036.3,736.4 L1038.1,737.3 L1039.9,738.1 L1041.7,738.9 L1043.5,739.7 L1045.3,740.5 L1047.1,741.3 L1049.0,742.1 L1050.8,742.8 L1052.6,743.6 L1054.4,744.4 L1056.2,745.2 L1058.1,746.0 L1059.9,746.8 L1061.7,747.5 L1063.5,748.3 L1065.4,749.1 L1067.2,749.8 L1069.0,750.6 L1070.8,751.4 L1072.7,752.1 L1074.5,752.9 L1076.3,753.7 L1078.2,754.4 L1080.0,755.2 L1081.8,755.9 L1083.7,756.7 L1085.5,757.4 L1087.3,758.2 L1089.2,758.9 L1091.0,759.7 L1092.9,760.4 L1094.7,761.1 L1096.5,761.9 L1098.4,762.6 L1100.2,763.4 L1102.1,764.1 L1103.9,764.8 L1105.7,765.6 L1107.6,766.3 L1109.4,767.1 L1111.3,767.8 L1113.1,768.5 L1115.0,769.3 L1116.8,770.0 L1118.7,770.7 L1120.5,771.5 L1122.4,772.2 L1124.2,772.9 L1126.1,773.7 L1127.9,774.4 L1129.8,775.1 L1131.6,775.8 L1133.5,776.6 L1135.3,777.3 L1137.2,778.0 L1139.0,778.8 L1140.9,779.5 L1142.7,780.2 L1144.6,781.0 L1146.4,781.7 L1148.3,782.5 L1150.1,783.2 L1152.0,783.9 L1153.9,784.7 L1155.7,785.4 L1157.6,786.1 L1159.4,786.9 L1161.3,787.6 L1163.1,788.4 L1165.0,789.1 L1166.9,789.8 L1168.7,790.6 L1170.6,791.3 L1172.4,792.1 L1174.3,792.8 L1176.1,793.6 L1178.0,794.3 L1179.9,795.0 L1181.7,795.8 L1183.6,796.5 L1185.4,797.3 L1187.3,798.0 L1189.2,798.8 L1191.0,799.5 L1192.9,800.3 L1194.7,801.1 L1196.6,801.8 L1198.4,802.6 L1200.3,803.3 L1202.1,804.1 L1204.0,804.9 L1205.8,805.6 L1207.7,806.4 L1209.6,807.2 L1211.4,807.9 L1213.3,808.7 L1215.1,809.5 L1217.0,810.2 L1218.8,811.0 L1220.7,811.8 L1222.5,812.6 L1224.4,813.3 L1226.2,814.1 L1228.1,814.9 L1229.9,815.7 L1231.8,816.5 L1233.6,817.3 L1235.5,818.1 L1237.3,818.9 L1239.1,819.7 L1241.0,820.5 L1242.8,821.2 L1244.7,822.0 L1246.5,822.9 L1248.3,823.7 L1250.2,824.5 L1252.0,825.3 L1253.9,826.1 L1255.7,826.9 L1257.5,827.7 L1259.4,828.5 L1261.2,829.3 L1263.0,830.2 L1264.9,831.0 L1266.7,831.8 L1268.5,832.6 L1270.3,833.5 L1272.2,834.3 L1274.0,835.1 L1275.8,836.0 L1277.6,836.8 L1279.5,837.7 L1281.3,838.5 L1283.1,839.4 L1284.9,840.2 L1286.7,841.1 L1288.5,841.9 L1290.3,842.8 L1292.2,843.6 L1294.0,844.5 L1295.8,845.4 L1297.6,846.2 L1299.4,847.1 L1301.2,848.0 L1303.0,848.9 L1304.8,849.8 L1306.6,850.6 L1308.4,851.5 L1310.2,852.4 L1312.0,853.3 L1313.7,854.2 L1315.5,855.1 L1317.3,856.0 L1319.1,856.9 L1320.9,857.8 L1322.7,858.8 L1324.4,859.7 L1326.2,860.6 L1328.0,861.5 L1329.8,862.4 L1331.5,863.4 L1333.3,864.3 L1335.1,865.2 L1336.8,866.2 L1338.6,867.1 L1340.4,868.1 L1342.1,869.0 L1343.9,870.0 L1345.6,870.9 L1347.4,871.9 L1349.1,872.9 L1350.9,873.8 L1352.6,874.8 L1354.4,875.8 L1356.1,876.7 L1357.8,877.7 L1359.6,878.7 L1361.3,879.7 L1363.0,880.7 L1364.8,881.7 L1366.5,882.7 L1368.2,883.7 L1369.9,884.7 L1371.7,885.7 L1373.4,886.8 L1375.1,887.8 L1376.8,888.8 L1378.5,889.8 L1380.2,890.9 L1381.9,891.9 L1383.6,893.0 L1385.3,894.0 L1387.0,895.1 L1388.7,896.1 L1390.4,897.2 L1392.0,898.2 L1393.7,899.3 L1395.4,900.4 L1397.1,901.5 L1398.7,902.5 L1400.4,903.6 L1402.1,904.7 L1403.7,905.8 L1405.4,906.9 L1407.1,908.0 L1408.7,909.1 L1410.4,910.3 L1412.0,911.4 L1413.7,912.5 L1415.3,913.6 L1416.9,914.8 L1418.6,915.9 L1420.2,917.0 L1421.8,918.2 L1423.5,919.3 L1425.1,920.5 L1426.7,921.7 L1428.3,922.8 L1429.9,924.0 L1431.5,925.2 L1433.1,926.4 L1434.7,927.6 L1436.3,928.8 L1437.9,930.0 L1439.5,931.2 L1441.1,932.4 L1442.7,933.6 L1444.3,934.8 L1445.8,936.0 L1447.4,937.3 L1449.0,938.5 L1450.5,939.8 L1452.1,941.0 L1453.7,942.2 L1455.2,943.5 L1456.8,944.8 L1458.3,946.0 L1459.8,947.3 L1461.4,948.6 L1462.9,949.9 L1464.4,951.2 L1466.0,952.4 L1467.5,953.8 L1469.0,955.1 L1470.5,956.4 L1472.0,957.7 L1473.5,959.0 L1475.0,960.4 L1476.5,961.7 L1478.0,963.0 L1479.5,964.4 L1481.0,965.8 L1482.5,967.1 L1483.9,968.5 L1485.4,969.8 L1486.9,971.2 L1488.4,972.6 L1489.8,974.0 L1491.3,975.4 L1492.7,976.8 L1494.2,978.2 L1495.6,979.6 L1497.0,981.1 L1498.5,982.5 L1499.9,983.9 L1501.3,985.4 L1502.7,986.8 L1504.1,988.3 L1505.5,989.7 L1506.9,991.2 L1508.3,992.7 L1509.7,994.1 L1511.1,995.6 L1512.5,997.1 L1513.9,998.6 L1515.3,1000.1 L1516.6,1001.6 L1518.0,1003.2 L1519.3,1004.7 L1520.7,1006.2 L1522.0,1007.7 L1523.3,1009.3 L1524.6,1010.8 L1525.9,1012.4 L1527.2,1013.9 L1528.5,1015.5 L1529.8,1017.1 L1531.1,1018.7 L1532.4,1020.2 L1533.6,1021.8 L1534.9,1023.4 L1536.1,1025.0 L1537.3,1026.6 L1538.5,1028.2 L1539.7,1029.8 L1540.9,1031.5 L1542.1,1033.1 L1543.2,1034.7 L1544.4,1036.3 L1545.5,1038.0 L1546.7,1039.6 L1547.8,1041.3 L1548.9,1042.9 L1550.0,1044.6 L1551.0,1046.3 L1552.1,1047.9 L1553.2,1049.6 L1554.2,1051.3 L1555.2,1053.0 L1556.2,1054.6 L1557.2,1056.3 L1558.2,1058.0 L1559.2,1059.7 L1560.1,1061.4 L1561.1,1063.1 L1562.1,1064.9 L1563.0,1066.6 L1563.9,1068.3 L1564.9,1070.0 L1565.8,1071.8 L1566.7,1073.5 L1567.6,1075.2 L1568.5,1077.0 L1569.4,1078.7 L1570.3,1080.5 L1571.2,1082.2 L1572.1,1084.0 L1573.0,1085.8 L1573.9,1087.5 L1574.7,1089.3 L1575.6,1091.1 L1576.5,1092.8 L1577.3,1094.6 L1578.2,1096.4 L1579.0,1098.2 L1579.9,1100.0 L1580.7,1101.8 L1581.6,1103.6 L1582.4,1105.4 L1583.2,1107.2 L1584.1,1109.0 L1584.9,1110.8 L1585.7,1112.6 L1586.5,1114.4 L1587.3,1116.2 L1588.1,1118.1 L1588.9,1119.9 L1589.7,1121.7 L1590.5,1123.5 L1591.3,1125.4 L1592.1,1127.2 L1592.9,1129.1 L1593.6,1130.9 L1594.4,1132.7 L1595.2,1134.6 L1595.9,1136.4 L1596.7,1138.3 L1597.4,1140.1 L1598.2,1142.0 L1598.9,1143.9 L1599.6,1145.7 L1600.4,1147.6 L1601.1,1149.5 L1601.8,1151.3 L1602.5,1153.2 L1603.2,1155.1 L1604.0,1156.9 L1604.7,1158.8 L1605.4,1160.7 L1606.0,1162.6 L1606.7,1164.4 L1607.4,1166.3 L1608.1,1168.2 L1608.7,1170.1 L1609.4,1172.0 L1610.1,1173.9 L1610.7,1175.8 L1611.4,1177.7 L1612.0,1179.6 L1612.7,1181.5 L1613.3,1183.4 L1613.9,1185.3 L1614.6,1187.2 L1615.2,1189.1 L1615.8,1191.0 L1616.4,1192.9 L1617.1,1194.8 L1617.7,1196.7 L1618.3,1198.6 L1618.9,1200.5 L1619.5,1202.4 L1620.1,1204.3 L1620.7,1206.2 L1621.3,1208.2 L1621.9,1210.1 L1622.4,1212.0 L1623.0,1213.9 L1623.6,1215.8 L1624.2,1217.8 L1624.7,1219.7 L1625.3,1221.6 L1625.8,1223.5 L1626.4,1225.5 L1627.0,1227.4 L1627.5,1229.3 L1628.1,1231.2 L1628.6,1233.2 L1629.1,1235.1 L1629.7,1237.0 L1630.2,1239.0 L1630.7,1240.9 L1631.3,1242.8 L1631.8,1244.8 L1632.3,1246.7 L1632.8,1248.7 L1633.4,1250.6 L1633.9,1252.5 L1634.4,1254.5 L1634.9,1256.4 L1635.4,1258.4 L1635.9,1260.3 L1636.4,1262.2 L1636.9,1264.2 L1637.4,1266.1 L1637.9,1268.1 L1638.4,1270.0 L1638.9,1272.0 L1639.4,1273.9 L1639.8,1275.9 L1640.3,1277.8 L1640.8,1279.8 L1641.3,1281.7 L1641.8,1283.7 L1642.2,1285.6 L1642.7,1287.6 L1643.2,1289.5 L1643.7,1291.5 L1644.1,1293.4 L1644.6,1295.4 L1645.1,1297.3 L1645.5,1299.3 L1646.0,1301.2 L1646.4,1303.2 L1646.9,1305.1 L1647.4,1307.1 L1647.8,1309.1 L1648.3,1311.0 L1648.7,1313.0 L1649.2,1314.9 L1649.6,1316.9 L1650.1,1318.8 L1650.5,1320.8 L1651.0,1322.7 L1651.4,1324.7 L1651.9,1326.7 L1652.3,1328.6 L1652.8,1330.6 L1653.2,1332.5 L1653.7,1334.5 L1654.1,1336.4 L1654.6,1338.4 L1655.0,1340.3 L1655.4,1342.3 L1655.9,1344.3 L1656.3,1346.2 L1656.8,1348.2 L1657.2,1350.1 L1657.7,1352.1 L1658.1,1354.0 L1658.5,1356.0 L1659.0,1357.9 L1659.4,1359.9 L1659.9,1361.8 L1660.3,1363.8 L1660.8,1365.7 L1661.2,1367.7 L1661.6,1369.6 L1662.1,1371.6 L1662.5,1373.5 L1663.0,1375.5 L1663.4,1377.4 L1663.9,1379.4 L1664.3,1381.3 L1664.7,1383.3 L1665.2,1385.2 L1665.6,1387.2 L1666.1,1389.1 L1666.5,1391.1 L1667.0,1393.0 L1667.4,1395.0 L1667.9,1396.9 L1668.3,1398.8 L1668.8,1400.8 L1669.3,1402.7 L1669.7,1404.7 L1670.2,1406.6 L1670.6,1408.5 L1671.1,1410.5 L1671.5,1412.4 L1672.0,1414.4 L1672.5,1416.3 L1672.9,1418.2 L1673.4,1420.2 L1673.9,1422.1 L1674.3,1424.0 L1674.8,1425.9 L1675.3,1427.9 L1675.8,1429.8 L1676.2,1431.7 L1676.7,1433.7 L1677.2,1435.6 L1677.7,1437.5 L1678.2,1439.4 L1678.6,1441.4 L1679.1,1443.3 L1679.6,1445.2 L1680.1,1447.1 L1680.6,1449.1 L1681.1,1451.0 L1681.6,1452.9 L1682.0,1454.8 L1682.5,1456.8 L1683.0,1458.7 L1683.5,1460.6 L1684.0,1462.5 L1684.5,1464.4 L1685.0,1466.4 L1685.5,1468.3 L1686.0,1470.2 L1686.5,1472.1 L1687.0,1474.1 L1687.5,1476.0 L1688.0,1477.9 L1688.5,1479.8 L1689.0,1481.8 L1689.5,1483.7 L1690.0,1485.6 L1690.5,1487.5 L1691.0,1489.5 L1691.5,1491.4 L1692.0,1493.3 L1692.5,1495.3 L1693.1,1497.2 L1693.6,1499.1 L1694.1,1501.1 L1694.6,1503.0 L1695.1,1505.0 L1695.7,1506.9 L1696.2,1508.9 L1696.7,1510.8 L1697.3,1512.8 L1697.8,1514.8 L1698.4,1516.7 L1698.9,1518.7 L1699.4,1520.6 L1699.9,1522.6 L1700.4,1524.5 L1700.9,1526.5 L1701.4,1528.4 L1701.9,1530.4 L1702.4,1532.3 L1702.8,1534.3 L1703.3,1536.2 L1703.8,1538.2 L1704.2,1540.1 L1704.7,1542.0 L1705.2,1544.0 L1705.7,1545.9 L1706.2,1547.8 L1706.7,1549.8 L1707.2,1551.7 L1707.8,1553.6 L1708.3,1555.6 L1708.8,1557.5 L1709.4,1559.5 L1710.0,1561.4 L1710.5,1563.4 L1711.1,1565.3 L1711.7,1567.3 L1712.3,1569.2 L1713.0,1571.1 L1713.6,1573.0 L1714.4,1574.9 L1715.1,1576.7 L1715.9,1578.5 L1716.8,1580.2 L1717.7,1581.9 L1718.7,1583.7 L1719.8,1585.6 L1721.0,1587.5 L1722.3,1589.2 L1723.7,1590.7 L1725.2,1591.8 L1726.8,1592.6 L1728.5,1593.0 L1730.5,1593.4 L1732.6,1593.7 L1734.7,1593.9 L1736.7,1594.0 L1738.7,1594.0 L1740.7,1594.1 L1742.6,1594.1 L1744.7,1594.2 L1746.7,1594.2 L1748.7,1594.2 L1748.7,1594.2 L1790.0,1594.2 L1900.0,1594.0 L2100.0,1593.6 L2194.8,1593.4"/>
<path class="cv" stroke="#0000ff" d="M239.2,307.5 L241.1,307.8 L243.1,308.1 L245.1,308.4 L247.1,308.7 L249.1,309.1 L251.0,309.4 L253.0,309.8 L254.9,310.2 L256.9,310.7 L258.9,311.1 L260.8,311.5 L262.8,312.0 L264.7,312.5 L266.6,313.1 L268.6,313.6 L270.5,314.2 L272.4,314.8 L274.3,315.4 L276.2,316.1 L278.1,316.7 L280.0,317.4 L281.9,318.1 L283.7,318.8 L285.6,319.6 L287.4,320.3 L289.3,321.1 L291.1,322.0 L292.9,322.8 L294.7,323.6 L296.5,324.5 L298.3,325.4 L300.0,326.3 L301.8,327.3 L303.5,328.3 L305.2,329.3 L306.9,330.3 L308.5,331.4 L310.2,332.5 L311.8,333.6 L313.5,334.7 L315.1,335.9 L316.7,337.1 L318.2,338.3 L319.8,339.5 L321.3,340.8 L322.8,342.0 L324.3,343.4 L325.8,344.7 L327.2,346.1 L328.7,347.5 L330.1,348.9 L331.5,350.3 L332.9,351.7 L334.3,353.2 L335.6,354.6 L337.0,356.1 L338.3,357.6 L339.7,359.2 L341.0,360.7 L342.3,362.2 L343.6,363.8 L344.9,365.4 L346.2,366.9 L347.5,368.5 L348.8,370.0 L350.1,371.6 L351.4,373.2 L352.6,374.8 L353.9,376.4 L355.2,377.9 L356.5,379.5 L357.8,381.1 L359.1,382.6 L360.4,384.2 L361.7,385.7 L363.0,387.3 L364.4,388.8 L365.7,390.3 L367.0,391.8 L368.4,393.3 L369.8,394.8 L371.2,396.2 L372.5,397.7 L374.0,399.1 L375.4,400.5 L376.8,401.9 L378.2,403.3 L379.7,404.7 L381.2,406.0 L382.6,407.4 L384.1,408.7 L385.6,410.0 L387.1,411.3 L388.6,412.6 L390.2,413.8 L391.7,415.1 L393.3,416.3 L394.8,417.5 L396.4,418.7 L398.0,419.9 L399.6,421.1 L401.2,422.2 L402.8,423.4 L404.4,424.5 L406.0,425.6 L407.7,426.7 L409.3,427.8 L411.0,428.9 L412.6,430.0 L414.3,431.0 L416.0,432.0 L417.7,433.1 L419.4,434.1 L421.1,435.1 L422.8,436.0 L424.5,437.0 L426.3,438.0 L428.0,438.9 L429.8,439.8 L431.5,440.7 L433.3,441.6 L435.0,442.5 L436.8,443.4 L438.6,444.2 L440.4,445.1 L442.2,445.9 L444.0,446.7 L445.8,447.5 L447.6,448.3 L449.4,449.1 L451.3,449.9 L453.1,450.6 L454.9,451.4 L456.8,452.1 L458.6,452.8 L460.5,453.6 L462.4,454.3 L464.2,454.9 L466.1,455.6 L468.0,456.3 L469.8,456.9 L471.7,457.6 L473.6,458.2 L475.5,458.9 L477.4,459.5 L479.3,460.1 L481.2,460.7 L483.1,461.3 L485.0,461.9 L487.0,462.5 L488.9,463.0 L490.8,463.6 L492.7,464.2 L494.7,464.7 L496.6,465.3 L498.5,465.8 L500.5,466.3 L502.4,466.9 L504.4,467.4 L506.3,467.9 L508.2,468.4 L510.2,468.9 L512.1,469.5 L514.1,470.0 L516.0,470.5 L518.0,471.0 L519.9,471.5 L521.9,472.0 L523.8,472.5 L525.8,473.1 L527.7,473.6 L529.7,474.1 L531.7,474.5 L533.6,475.0 L535.6,475.5 L537.5,476.0 L539.5,476.5 L541.5,477.0 L543.4,477.5 L545.4,478.0 L547.3,478.5 L549.3,479.0 L551.3,479.4 L553.2,479.9 L555.2,480.5 L557.1,481.0 L559.1,481.5 L561.0,482.0 L562.9,482.5 L564.9,483.1 L566.8,483.6 L568.8,484.1 L570.7,484.6 L572.7,485.2 L574.6,485.7 L576.5,486.3 L578.5,486.8 L580.4,487.4 L582.3,487.9 L584.3,488.5 L586.2,489.0 L588.1,489.6 L590.0,490.2 L592.0,490.7 L593.9,491.3 L595.8,491.9 L597.7,492.5 L599.6,493.1 L601.5,493.7 L603.4,494.3 L605.3,494.9 L607.2,495.5 L609.1,496.1 L611.0,496.8 L612.9,497.4 L614.8,498.0 L616.7,498.6 L618.6,499.3 L620.5,499.9 L622.4,500.6 L624.3,501.2 L626.2,501.9 L628.1,502.5 L629.9,503.2 L631.8,503.8 L633.7,504.5 L635.6,505.2 L637.4,505.9 L639.3,506.6 L641.2,507.3 L643.0,508.0 L644.9,508.7 L646.8,509.4 L648.6,510.1 L650.5,510.9 L652.3,511.6 L654.2,512.3 L656.0,513.1 L657.9,513.8 L659.7,514.5 L661.6,515.3 L663.4,516.1 L665.2,516.8 L667.1,517.6 L668.9,518.4 L670.7,519.1 L672.5,519.9 L674.4,520.7 L676.2,521.5 L678.0,522.3 L679.8,523.2 L681.6,524.0 L683.4,524.8 L685.3,525.6 L687.1,526.5 L688.9,527.3 L690.7,528.1 L692.5,529.0 L694.3,529.9 L696.0,530.7 L697.8,531.6 L699.6,532.5 L701.4,533.4 L703.2,534.3 L705.0,535.1 L706.7,536.1 L708.5,537.0 L710.3,537.9 L712.0,538.8 L713.8,539.7 L715.6,540.6 L717.3,541.6 L719.1,542.5 L720.9,543.4 L722.6,544.4 L724.4,545.3 L726.1,546.3 L727.9,547.3 L729.6,548.2 L731.3,549.2 L733.1,550.2 L734.8,551.2 L736.6,552.2 L738.3,553.2 L740.0,554.2 L741.7,555.2 L743.5,556.2 L745.2,557.2 L746.9,558.2 L748.6,559.2 L750.4,560.2 L752.1,561.3 L753.8,562.3 L755.5,563.3 L757.2,564.4 L758.9,565.4 L760.6,566.5 L762.3,567.5 L764.0,568.6 L765.7,569.6 L767.4,570.7 L769.1,571.8 L770.8,572.8 L772.5,573.9 L774.2,575.0 L775.9,576.0 L777.6,577.1 L779.3,578.2 L781.0,579.3 L782.6,580.4 L784.3,581.4 L786.0,582.5 L787.7,583.6 L789.4,584.7 L791.0,585.8 L792.7,586.9 L794.4,588.0 L796.1,589.2 L797.7,590.3 L799.4,591.4 L801.1,592.5 L802.7,593.6 L804.4,594.7 L806.0,595.9 L807.7,597.0 L809.4,598.1 L811.0,599.3 L812.7,600.4 L814.3,601.5 L816.0,602.6 L817.7,603.8 L819.3,604.9 L821.0,606.0 L822.6,607.2 L824.3,608.3 L825.9,609.5 L827.6,610.6 L829.2,611.7 L830.8,612.9 L832.5,614.0 L834.1,615.2 L835.8,616.3 L837.4,617.5 L839.1,618.6 L840.7,619.8 L842.3,620.9 L844.0,622.1 L845.6,623.2 L847.2,624.4 L848.9,625.5 L850.5,626.7 L852.2,627.8 L853.8,629.0 L855.4,630.1 L857.1,631.3 L858.7,632.4 L860.4,633.6 L862.0,634.7 L863.6,635.9 L865.3,637.0 L866.9,638.1 L868.6,639.3 L870.2,640.4 L871.8,641.6 L873.5,642.7 L875.1,643.9 L876.8,645.0 L878.4,646.2 L880.0,647.3 L881.7,648.4 L883.3,649.6 L885.0,650.7 L886.6,651.8 L888.3,653.0 L889.9,654.1 L891.6,655.2 L893.2,656.3 L894.9,657.4 L896.5,658.6 L898.2,659.7 L899.8,660.8 L901.5,661.9 L903.2,663.0 L904.8,664.1 L906.5,665.2 L908.1,666.3 L909.8,667.4 L911.5,668.5 L913.1,669.6 L914.8,670.7 L916.5,671.8 L918.2,672.8 L919.8,673.9 L921.5,675.0 L923.2,676.1 L924.9,677.2 L926.5,678.2 L928.2,679.3 L929.9,680.3 L931.6,681.4 L933.3,682.4 L935.0,683.5 L936.7,684.5 L938.4,685.6 L940.1,686.6 L941.8,687.6 L943.5,688.7 L945.2,689.7 L946.9,690.7 L948.7,691.7 L950.4,692.7 L952.1,693.7 L953.8,694.7 L955.6,695.7 L957.3,696.7 L959.0,697.7 L960.8,698.6 L962.5,699.6 L964.3,700.5 L966.0,701.5 L967.8,702.4 L969.5,703.4 L971.3,704.3 L973.1,705.3 L974.8,706.2 L976.6,707.1 L978.4,708.1 L980.1,709.0 L981.9,709.9 L983.7,710.8 L985.5,711.7 L987.2,712.6 L989.0,713.5 L990.8,714.4 L992.6,715.3 L994.4,716.2 L996.2,717.1 L998.0,718.0 L999.8,718.8 L1001.6,719.7 L1003.4,720.6 L1005.2,721.4 L1007.0,722.3 L1008.8,723.1 L1010.6,724.0 L1012.5,724.8 L1014.3,725.7 L1016.1,726.5 L1017.9,727.3 L1019.8,728.1 L1021.6,729.0 L1023.4,729.8 L1025.2,730.6 L1027.1,731.4 L1028.9,732.2 L1030.8,733.0 L1032.6,733.8 L1034.4,734.6 L1036.3,735.4 L1038.1,736.2 L1039.9,737.0 L1041.8,737.8 L1043.6,738.6 L1045.5,739.4 L1047.3,740.2 L1049.2,740.9 L1051.0,741.7 L1052.9,742.5 L1054.8,743.3 L1056.6,744.0 L1058.5,744.8 L1060.3,745.5 L1062.2,746.3 L1064.0,747.1 L1065.9,747.8 L1067.8,748.6 L1069.6,749.3 L1071.5,750.1 L1073.4,750.8 L1075.2,751.6 L1077.1,752.3 L1078.9,753.0 L1080.8,753.8 L1082.7,754.5 L1084.5,755.2 L1086.4,756.0 L1088.3,756.7 L1090.2,757.4 L1092.0,758.1 L1093.9,758.9 L1095.8,759.6 L1097.6,760.3 L1099.5,761.0 L1101.4,761.8 L1103.2,762.5 L1105.1,763.2 L1107.0,763.9 L1108.9,764.6 L1110.7,765.3 L1112.6,766.0 L1114.5,766.8 L1116.3,767.5 L1118.2,768.2 L1120.1,768.9 L1121.9,769.6 L1123.8,770.3 L1125.7,771.0 L1127.6,771.7 L1129.4,772.4 L1131.3,773.1 L1133.2,773.8 L1135.0,774.5 L1136.9,775.2 L1138.8,775.9 L1140.6,776.6 L1142.5,777.3 L1144.4,778.0 L1146.2,778.7 L1148.1,779.4 L1150.0,780.1 L1151.8,780.8 L1153.7,781.5 L1155.6,782.2 L1157.4,782.9 L1159.3,783.6 L1161.2,784.3 L1163.0,785.0 L1164.9,785.7 L1166.7,786.5 L1168.6,787.2 L1170.5,787.9 L1172.3,788.6 L1174.2,789.3 L1176.1,790.0 L1177.9,790.7 L1179.8,791.4 L1181.6,792.1 L1183.5,792.8 L1185.4,793.5 L1187.2,794.2 L1189.1,794.9 L1190.9,795.6 L1192.8,796.3 L1194.7,797.1 L1196.5,797.8 L1198.4,798.5 L1200.2,799.2 L1202.1,799.9 L1203.9,800.7 L1205.8,801.4 L1207.6,802.1 L1209.5,802.8 L1211.3,803.6 L1213.2,804.3 L1215.0,805.0 L1216.9,805.7 L1218.7,806.5 L1220.6,807.2 L1222.4,807.9 L1224.3,808.7 L1226.1,809.4 L1228.0,810.2 L1229.8,810.9 L1231.6,811.7 L1233.5,812.4 L1235.3,813.2 L1237.2,813.9 L1239.0,814.7 L1240.8,815.4 L1242.7,816.2 L1244.5,817.0 L1246.4,817.7 L1248.2,818.5 L1250.0,819.3 L1251.9,820.0 L1253.7,820.8 L1255.5,821.6 L1257.4,822.4 L1259.2,823.1 L1261.0,823.9 L1262.9,824.7 L1264.7,825.5 L1266.5,826.3 L1268.3,827.1 L1270.2,827.9 L1272.0,828.7 L1273.8,829.5 L1275.6,830.3 L1277.4,831.2 L1279.3,832.0 L1281.1,832.8 L1282.9,833.6 L1284.7,834.4 L1286.5,835.3 L1288.4,836.1 L1290.2,837.0 L1292.0,837.8 L1293.8,838.6 L1295.6,839.5 L1297.4,840.3 L1299.2,841.2 L1301.0,842.0 L1302.8,842.9 L1304.6,843.8 L1306.4,844.6 L1308.2,845.5 L1310.0,846.4 L1311.8,847.3 L1313.6,848.1 L1315.4,849.0 L1317.2,849.9 L1319.0,850.8 L1320.8,851.7 L1322.6,852.6 L1324.4,853.5 L1326.2,854.4 L1328.0,855.3 L1329.8,856.2 L1331.6,857.1 L1333.3,858.0 L1335.1,858.9 L1336.9,859.9 L1338.7,860.8 L1340.5,861.7 L1342.2,862.6 L1344.0,863.6 L1345.8,864.5 L1347.6,865.5 L1349.3,866.4 L1351.1,867.3 L1352.9,868.3 L1354.6,869.3 L1356.4,870.2 L1358.2,871.2 L1359.9,872.1 L1361.7,873.1 L1363.4,874.1 L1365.2,875.0 L1367.0,876.0 L1368.7,877.0 L1370.5,878.0 L1372.2,879.0 L1374.0,879.9 L1375.7,880.9 L1377.5,881.9 L1379.2,882.9 L1380.9,883.9 L1382.7,884.9 L1384.4,885.9 L1386.2,886.9 L1387.9,887.9 L1389.6,889.0 L1391.4,890.0 L1393.1,891.0 L1394.8,892.0 L1396.6,893.1 L1398.3,894.1 L1400.0,895.1 L1401.7,896.2 L1403.5,897.2 L1405.2,898.2 L1406.9,899.3 L1408.6,900.3 L1410.3,901.4 L1412.0,902.4 L1413.8,903.5 L1415.5,904.6 L1417.2,905.6 L1418.9,906.7 L1420.6,907.8 L1422.3,908.8 L1424.0,909.9 L1425.7,911.0 L1427.3,912.1 L1429.0,913.2 L1430.7,914.3 L1432.4,915.4 L1434.1,916.4 L1435.8,917.5 L1437.5,918.6 L1439.2,919.8 L1440.8,920.9 L1442.5,922.0 L1444.2,923.1 L1445.8,924.2 L1447.5,925.3 L1449.2,926.5 L1450.8,927.6 L1452.5,928.7 L1454.1,929.9 L1455.8,931.0 L1457.4,932.2 L1459.0,933.4 L1460.7,934.5 L1462.3,935.7 L1463.9,936.8 L1465.5,938.0 L1467.2,939.2 L1468.8,940.4 L1470.4,941.6 L1472.0,942.8 L1473.6,944.0 L1475.2,945.2 L1476.8,946.4 L1478.4,947.6 L1480.0,948.8 L1481.6,950.0 L1483.2,951.2 L1484.7,952.5 L1486.3,953.7 L1487.9,954.9 L1489.4,956.2 L1491.0,957.4 L1492.5,958.7 L1494.1,959.9 L1495.6,961.2 L1497.1,962.5 L1498.7,963.8 L1500.2,965.0 L1501.7,966.3 L1503.2,967.6 L1504.7,968.9 L1506.2,970.3 L1507.7,971.6 L1509.2,972.9 L1510.7,974.2 L1512.2,975.6 L1513.6,976.9 L1515.1,978.2 L1516.6,979.6 L1518.0,980.9 L1519.5,982.3 L1520.9,983.7 L1522.3,985.0 L1523.8,986.4 L1525.2,987.8 L1526.6,989.2 L1528.0,990.6 L1529.4,992.0 L1530.8,993.4 L1532.2,994.8 L1533.6,996.3 L1535.0,997.7 L1536.3,999.2 L1537.7,1000.6 L1539.0,1002.1 L1540.4,1003.5 L1541.7,1005.0 L1543.0,1006.5 L1544.3,1008.0 L1545.6,1009.5 L1546.9,1011.0 L1548.2,1012.5 L1549.5,1014.0 L1550.8,1015.5 L1552.1,1017.1 L1553.3,1018.6 L1554.6,1020.2 L1555.8,1021.7 L1557.1,1023.3 L1558.3,1024.8 L1559.5,1026.4 L1560.8,1028.0 L1562.0,1029.6 L1563.2,1031.2 L1564.3,1032.8 L1565.5,1034.4 L1566.7,1036.1 L1567.9,1037.7 L1569.0,1039.3 L1570.2,1041.0 L1571.3,1042.6 L1572.4,1044.3 L1573.5,1046.0 L1574.6,1047.6 L1575.7,1049.3 L1576.8,1051.0 L1577.9,1052.7 L1579.0,1054.4 L1580.1,1056.1 L1581.1,1057.8 L1582.2,1059.5 L1583.2,1061.3 L1584.2,1063.0 L1585.3,1064.7 L1586.3,1066.5 L1587.3,1068.2 L1588.3,1070.0 L1589.2,1071.7 L1590.2,1073.5 L1591.2,1075.2 L1592.2,1077.0 L1593.1,1078.8 L1594.1,1080.6 L1595.0,1082.3 L1595.9,1084.1 L1596.8,1085.9 L1597.7,1087.7 L1598.6,1089.5 L1599.5,1091.3 L1600.4,1093.1 L1601.3,1094.9 L1602.1,1096.7 L1603.0,1098.5 L1603.8,1100.4 L1604.7,1102.2 L1605.5,1104.0 L1606.3,1105.8 L1607.1,1107.7 L1607.9,1109.5 L1608.7,1111.3 L1609.5,1113.2 L1610.3,1115.0 L1611.0,1116.8 L1611.8,1118.7 L1612.5,1120.5 L1613.3,1122.4 L1614.0,1124.2 L1614.7,1126.1 L1615.5,1127.9 L1616.2,1129.8 L1616.9,1131.6 L1617.6,1133.5 L1618.3,1135.4 L1618.9,1137.2 L1619.6,1139.1 L1620.3,1141.0 L1620.9,1142.8 L1621.6,1144.7 L1622.3,1146.6 L1622.9,1148.5 L1623.5,1150.4 L1624.2,1152.2 L1624.8,1154.1 L1625.4,1156.0 L1626.0,1157.9 L1626.6,1159.8 L1627.2,1161.7 L1627.8,1163.6 L1628.4,1165.5 L1629.0,1167.4 L1629.6,1169.3 L1630.2,1171.2 L1630.7,1173.1 L1631.3,1175.0 L1631.9,1176.9 L1632.4,1178.8 L1633.0,1180.7 L1633.6,1182.6 L1634.1,1184.5 L1634.7,1186.4 L1635.2,1188.3 L1635.7,1190.2 L1636.3,1192.2 L1636.8,1194.1 L1637.3,1196.0 L1637.9,1197.9 L1638.4,1199.8 L1638.9,1201.8 L1639.4,1203.7 L1639.9,1205.6 L1640.5,1207.5 L1641.0,1209.5 L1641.5,1211.4 L1642.0,1213.3 L1642.5,1215.2 L1643.0,1217.2 L1643.5,1219.1 L1644.0,1221.0 L1644.5,1223.0 L1645.0,1224.9 L1645.5,1226.9 L1646.0,1228.8 L1646.5,1230.7 L1647.0,1232.7 L1647.5,1234.6 L1648.0,1236.6 L1648.5,1238.5 L1649.0,1240.4 L1649.5,1242.4 L1650.0,1244.3 L1650.5,1246.3 L1651.0,1248.2 L1651.5,1250.2 L1652.0,1252.1 L1652.5,1254.1 L1653.0,1256.0 L1653.5,1258.0 L1653.9,1259.9 L1654.4,1261.9 L1654.9,1263.8 L1655.4,1265.8 L1655.9,1267.7 L1656.4,1269.7 L1656.9,1271.6 L1657.4,1273.6 L1657.9,1275.5 L1658.4,1277.5 L1658.8,1279.4 L1659.3,1281.4 L1659.8,1283.3 L1660.3,1285.3 L1660.8,1287.2 L1661.3,1289.2 L1661.8,1291.2 L1662.3,1293.1 L1662.7,1295.1 L1663.2,1297.0 L1663.7,1299.0 L1664.2,1300.9 L1664.7,1302.9 L1665.2,1304.8 L1665.7,1306.8 L1666.1,1308.7 L1666.6,1310.7 L1667.1,1312.7 L1667.6,1314.6 L1668.1,1316.6 L1668.5,1318.5 L1669.0,1320.5 L1669.5,1322.4 L1670.0,1324.4 L1670.5,1326.3 L1670.9,1328.3 L1671.4,1330.2 L1671.9,1332.2 L1672.4,1334.1 L1672.9,1336.1 L1673.3,1338.0 L1673.8,1340.0 L1674.3,1341.9 L1674.8,1343.9 L1675.2,1345.8 L1675.7,1347.8 L1676.2,1349.7 L1676.7,1351.7 L1677.2,1353.6 L1677.6,1355.6 L1678.1,1357.5 L1678.6,1359.4 L1679.0,1361.4 L1679.5,1363.3 L1680.0,1365.3 L1680.5,1367.2 L1680.9,1369.1 L1681.4,1371.1 L1681.9,1373.0 L1682.4,1375.0 L1682.8,1376.9 L1683.3,1378.8 L1683.8,1380.8 L1684.2,1382.7 L1684.7,1384.6 L1685.2,1386.6 L1685.7,1388.5 L1686.1,1390.4 L1686.6,1392.4 L1687.1,1394.3 L1687.5,1396.2 L1688.0,1398.2 L1688.5,1400.1 L1688.9,1402.0 L1689.4,1404.0 L1689.9,1405.9 L1690.4,1407.8 L1690.8,1409.8 L1691.3,1411.7 L1691.8,1413.6 L1692.2,1415.6 L1692.7,1417.5 L1693.2,1419.4 L1693.7,1421.3 L1694.1,1423.3 L1694.6,1425.2 L1695.1,1427.1 L1695.5,1429.1 L1696.0,1431.0 L1696.5,1432.9 L1697.0,1434.8 L1697.4,1436.8 L1697.9,1438.7 L1698.4,1440.6 L1698.9,1442.6 L1699.3,1444.5 L1699.8,1446.4 L1700.3,1448.4 L1700.8,1450.3 L1701.2,1452.2 L1701.7,1454.2 L1702.2,1456.1 L1702.7,1458.0 L1703.2,1459.9 L1703.6,1461.9 L1704.1,1463.8 L1704.6,1465.7 L1705.1,1467.7 L1705.6,1469.6 L1706.0,1471.5 L1706.5,1473.5 L1707.0,1475.4 L1707.5,1477.3 L1708.0,1479.3 L1708.5,1481.2 L1708.9,1483.1 L1709.4,1485.1 L1709.9,1487.0 L1710.4,1488.9 L1710.9,1490.9 L1711.4,1492.8 L1711.9,1494.8 L1712.3,1496.7 L1712.8,1498.7 L1713.3,1500.6 L1713.8,1502.6 L1714.3,1504.5 L1714.8,1506.5 L1715.2,1508.4 L1715.7,1510.4 L1716.2,1512.3 L1716.7,1514.3 L1717.2,1516.3 L1717.7,1518.2 L1718.1,1520.2 L1718.6,1522.1 L1719.1,1524.1 L1719.6,1526.0 L1720.2,1528.0 L1720.7,1529.9 L1721.2,1531.9 L1721.7,1533.8 L1722.3,1535.7 L1722.8,1537.7 L1723.4,1539.6 L1723.9,1541.5 L1724.5,1543.5 L1725.1,1545.4 L1725.7,1547.3 L1726.2,1549.2 L1726.8,1551.1 L1727.4,1553.0 L1728.1,1555.0 L1728.7,1556.8 L1729.4,1558.7 L1730.0,1560.6 L1730.7,1562.5 L1731.4,1564.4 L1732.1,1566.2 L1732.9,1568.1 L1733.6,1570.0 L1734.4,1571.9 L1735.1,1573.9 L1735.9,1575.8 L1736.7,1577.8 L1737.6,1579.6 L1738.5,1581.5 L1739.5,1583.2 L1740.5,1584.9 L1741.6,1586.4 L1742.7,1587.9 L1744.0,1589.2 L1745.5,1590.6 L1747.2,1591.9 L1749.1,1592.9 L1750.9,1593.6 L1752.8,1593.8 L1754.7,1593.9 L1756.6,1594.0 L1758.7,1594.1 L1760.7,1594.2 L1762.5,1594.2 L1790.0,1594.4 L1900.0,1594.4 L2100.0,1594.6 L2194.8,1594.6"/>
<path class="cv" style="stroke-width:5.2;stroke-linecap:round" stroke="#0000ff" d="M242.8,307 L242.8,287.4"/>
<path class="cv" stroke="#ff00ff" d="M239.2,307.5 L241.2,307.6 L243.3,307.7 L245.3,307.8 L247.4,308.0 L249.4,308.1 L251.5,308.3 L253.5,308.4 L255.6,308.6 L257.6,308.8 L259.6,309.0 L261.6,309.1 L263.7,309.3 L265.7,309.5 L267.7,309.7 L269.7,309.9 L271.7,310.2 L273.7,310.4 L275.7,310.6 L277.6,310.9 L279.6,311.2 L281.6,311.4 L283.6,311.7 L285.5,312.0 L287.5,312.3 L289.5,312.6 L291.4,312.9 L293.4,313.2 L295.3,313.5 L297.3,313.9 L299.2,314.2 L301.2,314.5 L303.1,314.9 L305.1,315.2 L307.0,315.6 L308.9,316.0 L310.9,316.3 L312.8,316.8 L314.7,317.2 L316.6,317.6 L318.5,318.0 L320.5,318.5 L322.4,318.9 L324.3,319.4 L326.2,319.8 L328.1,320.3 L330.0,320.8 L331.9,321.3 L333.8,321.8 L335.7,322.3 L337.6,322.8 L339.5,323.3 L341.4,323.9 L343.3,324.4 L345.2,325.0 L347.1,325.5 L349.0,326.1 L350.9,326.7 L352.8,327.3 L354.7,327.9 L356.6,328.5 L358.4,329.1 L360.3,329.8 L362.2,330.4 L364.1,331.1 L366.0,331.7 L367.9,332.4 L369.8,333.1 L371.7,333.8 L373.6,334.4 L375.4,335.1 L377.3,335.8 L379.2,336.5 L381.1,337.2 L383.0,337.9 L384.9,338.6 L386.8,339.3 L388.7,340.0 L390.6,340.7 L392.5,341.4 L394.4,342.1 L396.2,342.8 L398.1,343.5 L400.0,344.2 L401.9,344.8 L403.8,345.5 L405.7,346.2 L407.6,346.8 L409.6,347.4 L411.5,348.1 L413.4,348.7 L415.3,349.3 L417.2,349.9 L419.1,350.5 L421.0,351.1 L422.9,351.7 L424.9,352.3 L426.8,352.8 L428.7,353.4 L430.6,353.9 L432.6,354.4 L434.5,354.8 L436.5,355.3 L438.4,355.8 L440.3,356.2 L442.3,356.7 L444.2,357.1 L446.2,357.5 L448.1,357.9 L450.1,358.3 L452.0,358.7 L454.0,359.1 L455.9,359.4 L457.9,359.8 L459.8,360.1 L461.8,360.5 L463.8,360.8 L465.7,361.1 L467.7,361.4 L469.7,361.7 L471.6,362.0 L473.6,362.3 L475.6,362.5 L477.5,362.8 L479.5,363.1 L481.5,363.3 L483.5,363.5 L485.4,363.8 L487.4,364.0 L489.4,364.2 L491.4,364.4 L493.4,364.6 L495.4,364.8 L497.3,365.0 L499.3,365.2 L501.3,365.4 L503.3,365.5 L505.3,365.7 L507.3,365.9 L509.3,366.1 L511.3,366.2 L513.2,366.4 L515.2,366.6 L517.2,366.7 L519.2,366.9 L521.2,367.1 L523.2,367.2 L525.2,367.4 L527.2,367.5 L529.2,367.7 L531.2,367.8 L533.2,368.0 L535.2,368.1 L537.2,368.2 L539.2,368.4 L541.2,368.5 L543.2,368.6 L545.1,368.8 L547.1,368.9 L549.1,369.1 L551.1,369.2 L553.1,369.3 L555.1,369.5 L557.1,369.7 L559.1,369.8 L561.1,370.0 L563.1,370.1 L565.1,370.3 L567.1,370.5 L569.1,370.6 L571.1,370.8 L573.1,371.0 L575.0,371.2 L577.0,371.4 L579.0,371.5 L581.0,371.7 L583.0,371.9 L585.0,372.1 L587.0,372.3 L589.0,372.5 L591.0,372.8 L592.9,373.0 L594.9,373.2 L596.9,373.5 L598.9,373.7 L600.9,374.0 L602.8,374.2 L604.8,374.5 L606.8,374.8 L608.8,375.1 L610.7,375.4 L612.7,375.7 L614.7,376.0 L616.6,376.4 L618.6,376.7 L620.6,377.0 L622.5,377.4 L624.5,377.7 L626.5,378.1 L628.4,378.5 L630.4,378.8 L632.3,379.2 L634.3,379.7 L636.2,380.1 L638.2,380.6 L640.1,381.0 L642.1,381.5 L644.0,382.0 L646.0,382.5 L647.9,383.0 L649.8,383.5 L651.8,384.0 L653.7,384.6 L655.6,385.1 L657.6,385.6 L659.5,386.2 L661.4,386.8 L663.3,387.4 L665.2,388.0 L667.2,388.6 L669.1,389.2 L671.0,389.8 L672.9,390.5 L674.8,391.2 L676.7,391.8 L678.6,392.5 L680.5,393.2 L682.3,393.9 L684.2,394.7 L686.1,395.4 L688.0,396.1 L689.8,396.9 L691.7,397.6 L693.5,398.4 L695.4,399.2 L697.3,400.0 L699.1,400.8 L700.9,401.6 L702.8,402.4 L704.6,403.2 L706.4,404.1 L708.3,405.0 L710.1,405.8 L711.9,406.7 L713.7,407.6 L715.5,408.5 L717.3,409.4 L719.1,410.3 L720.9,411.2 L722.6,412.2 L724.4,413.1 L726.2,414.1 L727.9,415.0 L729.7,416.0 L731.4,417.0 L733.2,418.0 L734.9,419.0 L736.6,420.0 L738.4,421.0 L740.1,422.1 L741.8,423.1 L743.5,424.2 L745.2,425.2 L746.9,426.3 L748.6,427.4 L750.3,428.4 L751.9,429.5 L753.6,430.6 L755.3,431.8 L756.9,432.9 L758.5,434.0 L760.2,435.2 L761.8,436.3 L763.4,437.5 L765.0,438.7 L766.6,439.8 L768.2,441.0 L769.8,442.2 L771.4,443.4 L773.0,444.6 L774.5,445.8 L776.1,447.1 L777.6,448.3 L779.2,449.6 L780.7,450.8 L782.2,452.1 L783.7,453.3 L785.2,454.6 L786.8,455.9 L788.2,457.2 L789.7,458.5 L791.2,459.8 L792.7,461.1 L794.2,462.5 L795.6,463.8 L797.1,465.1 L798.5,466.5 L800.0,467.8 L801.4,469.2 L802.8,470.6 L804.2,472.0 L805.6,473.3 L807.0,474.7 L808.4,476.1 L809.8,477.5 L811.2,479.0 L812.6,480.4 L813.9,481.8 L815.3,483.3 L816.6,484.7 L818.0,486.2 L819.3,487.6 L820.7,489.1 L822.0,490.5 L823.3,492.0 L824.6,493.5 L825.9,495.0 L827.2,496.5 L828.5,498.0 L829.8,499.5 L831.1,501.0 L832.4,502.6 L833.6,504.1 L834.9,505.6 L836.1,507.2 L837.4,508.7 L838.6,510.3 L839.9,511.9 L841.1,513.4 L842.3,515.0 L843.5,516.6 L844.7,518.2 L845.9,519.8 L847.1,521.4 L848.3,523.0 L849.5,524.6 L850.7,526.2 L851.9,527.8 L853.0,529.5 L854.2,531.1 L855.4,532.7 L856.5,534.4 L857.7,536.0 L858.8,537.6 L859.9,539.3 L861.1,541.0 L862.2,542.6 L863.3,544.3 L864.4,546.0 L865.5,547.6 L866.6,549.3 L867.7,551.0 L868.8,552.7 L869.9,554.4 L871.0,556.1 L872.1,557.8 L873.2,559.5 L874.2,561.2 L875.3,562.9 L876.4,564.6 L877.4,566.3 L878.5,568.0 L879.5,569.7 L880.6,571.5 L881.6,573.2 L882.7,574.9 L883.7,576.7 L884.7,578.4 L885.8,580.1 L886.8,581.9 L887.8,583.6 L888.8,585.3 L889.8,587.1 L890.8,588.8 L891.8,590.6 L892.8,592.3 L893.8,594.1 L894.8,595.8 L895.8,597.6 L896.8,599.3 L897.8,601.1 L898.8,602.8 L899.8,604.6 L900.7,606.3 L901.7,608.1 L902.7,609.8 L903.7,611.6 L904.7,613.3 L905.6,615.1 L906.6,616.8 L907.6,618.6 L908.5,620.4 L909.5,622.1 L910.5,623.9 L911.5,625.6 L912.4,627.4 L913.4,629.1 L914.4,630.9 L915.3,632.6 L916.3,634.4 L917.3,636.1 L918.2,637.9 L919.2,639.6 L920.2,641.4 L921.2,643.1 L922.2,644.8 L923.1,646.6 L924.1,648.3 L925.1,650.1 L926.1,651.8 L927.1,653.5 L928.1,655.3 L929.1,657.0 L930.1,658.7 L931.1,660.4 L932.1,662.2 L933.1,663.9 L934.1,665.6 L935.2,667.3 L936.2,669.0 L937.2,670.7 L938.3,672.4 L939.3,674.1 L940.3,675.8 L941.4,677.5 L942.5,679.2 L943.5,680.9 L944.6,682.6 L945.7,684.3 L946.7,685.9 L947.8,687.6 L948.9,689.3 L950.0,691.0 L951.1,692.6 L952.2,694.3 L953.3,696.0 L954.4,697.6 L955.5,699.3 L956.6,701.0 L957.7,702.6 L958.8,704.3 L959.9,705.9 L961.0,707.6 L962.1,709.2 L963.2,710.9 L964.3,712.5 L965.4,714.2 L966.6,715.8 L967.7,717.5 L968.8,719.1 L969.9,720.8 L971.0,722.5 L972.1,724.1 L973.2,725.8 L974.4,727.4 L975.5,729.1 L976.6,730.7 L977.7,732.4 L978.8,734.0 L979.9,735.7 L981.0,737.3 L982.1,739.0 L983.2,740.6 L984.3,742.3 L985.4,744.0 L986.5,745.6 L987.6,747.3 L988.7,749.0 L989.8,750.6 L990.9,752.3 L991.9,754.0 L993.0,755.7 L994.1,757.3 L995.1,759.0 L996.2,760.7 L997.3,762.4 L998.3,764.1 L999.4,765.8 L1000.4,767.5 L1001.4,769.2 L1002.5,770.9 L1003.5,772.6 L1004.5,774.3 L1005.5,776.0 L1006.5,777.7 L1007.5,779.4 L1008.5,781.1 L1009.5,782.8 L1010.5,784.6 L1011.5,786.3 L1012.5,788.0 L1013.5,789.7 L1014.5,791.5 L1015.5,793.2 L1016.4,794.9 L1017.4,796.7 L1018.4,798.4 L1019.3,800.2 L1020.3,801.9 L1021.2,803.7 L1022.2,805.4 L1023.1,807.2 L1024.0,808.9 L1025.0,810.7 L1025.9,812.4 L1026.8,814.2 L1027.8,816.0 L1028.7,817.7 L1029.6,819.5 L1030.6,821.3 L1031.5,823.0 L1032.4,824.8 L1033.3,826.6 L1034.2,828.3 L1035.1,830.1 L1036.0,831.9 L1036.9,833.7 L1037.8,835.5 L1038.8,837.2 L1039.7,839.0 L1040.5,840.8 L1041.4,842.6 L1042.3,844.4 L1043.2,846.2 L1044.1,848.0 L1045.0,849.8 L1045.9,851.6 L1046.7,853.4 L1047.6,855.2 L1048.5,857.0 L1049.3,858.8 L1050.2,860.6 L1051.1,862.4 L1051.9,864.2 L1052.8,866.0 L1053.6,867.8 L1054.5,869.6 L1055.4,871.4 L1056.2,873.2 L1057.1,875.0 L1057.9,876.9 L1058.8,878.7 L1059.6,880.5 L1060.5,882.3 L1061.3,884.1 L1062.2,885.9 L1063.1,887.7 L1063.9,889.6 L1064.8,891.4 L1065.6,893.2 L1066.5,895.0 L1067.3,896.8 L1068.2,898.6 L1069.1,900.4 L1069.9,902.2 L1070.8,904.1 L1071.7,905.9 L1072.5,907.7 L1073.4,909.5 L1074.3,911.3 L1075.1,913.1 L1076.0,914.9 L1076.9,916.7 L1077.8,918.5 L1078.7,920.3 L1079.6,922.1 L1080.4,923.9 L1081.3,925.7 L1082.2,927.5 L1083.1,929.3 L1084.0,931.1 L1084.9,932.9 L1085.8,934.7 L1086.7,936.5 L1087.6,938.3 L1088.5,940.1 L1089.4,941.9 L1090.3,943.7 L1091.1,945.5 L1092.0,947.3 L1092.9,949.1 L1093.8,950.9 L1094.7,952.7 L1095.6,954.5 L1096.5,956.3 L1097.4,958.1 L1098.3,959.9 L1099.2,961.7 L1100.1,963.5 L1101.0,965.3 L1101.9,967.1 L1102.9,968.8 L1103.8,970.6 L1104.7,972.4 L1105.6,974.2 L1106.5,976.0 L1107.5,977.8 L1108.4,979.5 L1109.3,981.3 L1110.3,983.1 L1111.2,984.8 L1112.2,986.6 L1113.1,988.4 L1114.1,990.1 L1115.1,991.9 L1116.0,993.6 L1117.0,995.4 L1118.0,997.1 L1119.0,998.9 L1119.9,1000.6 L1120.9,1002.3 L1121.9,1004.1 L1122.9,1005.8 L1124.0,1007.5 L1125.0,1009.2 L1126.0,1010.9 L1127.1,1012.6 L1128.1,1014.3 L1129.2,1016.0 L1130.3,1017.7 L1131.4,1019.3 L1132.5,1021.0 L1133.5,1022.7 L1134.6,1024.4 L1135.7,1026.0 L1136.8,1027.7 L1138.0,1029.3 L1139.1,1031.0 L1140.2,1032.6 L1141.4,1034.3 L1142.5,1035.9 L1143.7,1037.5 L1144.8,1039.1 L1146.0,1040.7 L1147.2,1042.3 L1148.4,1043.9 L1149.6,1045.5 L1150.8,1047.1 L1152.0,1048.7 L1153.3,1050.3 L1154.5,1051.8 L1155.7,1053.4 L1157.0,1054.9 L1158.3,1056.5 L1159.5,1058.0 L1160.8,1059.5 L1162.1,1061.1 L1163.4,1062.6 L1164.7,1064.1 L1166.0,1065.5 L1167.4,1067.0 L1168.7,1068.5 L1170.1,1069.9 L1171.4,1071.4 L1172.8,1072.8 L1174.2,1074.2 L1175.6,1075.6 L1177.0,1077.0 L1178.4,1078.4 L1179.9,1079.8 L1181.3,1081.1 L1182.8,1082.5 L1184.2,1083.8 L1185.7,1085.1 L1187.2,1086.4 L1188.7,1087.7 L1190.2,1089.0 L1191.7,1090.2 L1193.3,1091.5 L1194.8,1092.7 L1196.4,1093.9 L1197.9,1095.1 L1199.5,1096.3 L1201.1,1097.5 L1202.7,1098.7 L1204.3,1099.9 L1205.9,1101.0 L1207.5,1102.2 L1209.1,1103.3 L1210.8,1104.4 L1212.4,1105.6 L1214.0,1106.7 L1215.7,1107.8 L1217.4,1108.9 L1219.0,1109.9 L1220.7,1111.0 L1222.4,1112.1 L1224.1,1113.1 L1225.8,1114.2 L1227.5,1115.3 L1229.2,1116.3 L1230.9,1117.3 L1232.6,1118.4 L1234.3,1119.4 L1236.0,1120.4 L1237.7,1121.4 L1239.5,1122.4 L1241.2,1123.4 L1242.9,1124.4 L1244.7,1125.4 L1246.4,1126.4 L1248.1,1127.4 L1249.9,1128.4 L1251.6,1129.4 L1253.4,1130.4 L1255.1,1131.3 L1256.9,1132.3 L1258.6,1133.3 L1260.4,1134.3 L1262.1,1135.3 L1263.9,1136.2 L1265.6,1137.2 L1267.4,1138.2 L1269.2,1139.2 L1270.9,1140.1 L1272.7,1141.1 L1274.4,1142.1 L1276.2,1143.0 L1277.9,1144.0 L1279.7,1145.0 L1281.5,1145.9 L1283.2,1146.9 L1285.0,1147.8 L1286.7,1148.8 L1288.5,1149.8 L1290.3,1150.7 L1292.0,1151.7 L1293.8,1152.7 L1295.5,1153.6 L1297.3,1154.6 L1299.1,1155.6 L1300.8,1156.5 L1302.6,1157.5 L1304.3,1158.4 L1306.1,1159.4 L1307.9,1160.4 L1309.6,1161.3 L1311.4,1162.3 L1313.1,1163.3 L1314.9,1164.2 L1316.6,1165.2 L1318.4,1166.2 L1320.2,1167.1 L1321.9,1168.1 L1323.7,1169.1 L1325.4,1170.1 L1327.2,1171.0 L1328.9,1172.0 L1330.7,1173.0 L1332.4,1174.0 L1334.2,1174.9 L1335.9,1175.9 L1337.7,1176.9 L1339.4,1177.9 L1341.2,1178.9 L1342.9,1179.9 L1344.6,1180.8 L1346.4,1181.8 L1348.1,1182.8 L1349.9,1183.8 L1351.6,1184.8 L1353.3,1185.8 L1355.1,1186.8 L1356.8,1187.8 L1358.6,1188.8 L1360.3,1189.8 L1362.0,1190.8 L1363.8,1191.8 L1365.5,1192.8 L1367.2,1193.8 L1368.9,1194.8 L1370.7,1195.9 L1372.4,1196.9 L1374.1,1197.9 L1375.8,1198.9 L1377.5,1200.0 L1379.2,1201.0 L1380.9,1202.0 L1382.6,1203.1 L1384.4,1204.1 L1386.1,1205.2 L1387.8,1206.2 L1389.5,1207.3 L1391.2,1208.3 L1392.9,1209.4 L1394.5,1210.4 L1396.2,1211.5 L1397.9,1212.6 L1399.6,1213.6 L1401.3,1214.7 L1403.0,1215.8 L1404.7,1216.9 L1406.4,1218.0 L1408.0,1219.1 L1409.7,1220.1 L1411.4,1221.2 L1413.0,1222.3 L1414.7,1223.4 L1416.4,1224.5 L1418.0,1225.7 L1419.7,1226.8 L1421.3,1227.9 L1423.0,1229.0 L1424.6,1230.2 L1426.3,1231.3 L1427.9,1232.4 L1429.6,1233.6 L1431.2,1234.7 L1432.8,1235.9 L1434.5,1237.0 L1436.1,1238.2 L1437.7,1239.4 L1439.3,1240.5 L1441.0,1241.7 L1442.6,1242.9 L1444.2,1244.1 L1445.8,1245.2 L1447.4,1246.4 L1449.0,1247.6 L1450.6,1248.8 L1452.2,1250.0 L1453.8,1251.2 L1455.4,1252.4 L1457.0,1253.6 L1458.6,1254.8 L1460.2,1256.1 L1461.8,1257.3 L1463.4,1258.5 L1464.9,1259.7 L1466.5,1260.9 L1468.1,1262.2 L1469.7,1263.4 L1471.2,1264.7 L1472.8,1265.9 L1474.4,1267.2 L1475.9,1268.4 L1477.5,1269.7 L1479.1,1270.9 L1480.6,1272.2 L1482.2,1273.5 L1483.7,1274.7 L1485.3,1276.0 L1486.8,1277.3 L1488.4,1278.6 L1489.9,1279.8 L1491.4,1281.1 L1493.0,1282.4 L1494.5,1283.7 L1496.0,1285.0 L1497.6,1286.3 L1499.1,1287.6 L1500.6,1288.9 L1502.1,1290.2 L1503.7,1291.5 L1505.2,1292.8 L1506.7,1294.1 L1508.2,1295.4 L1509.7,1296.7 L1511.2,1298.0 L1512.7,1299.4 L1514.2,1300.7 L1515.7,1302.0 L1517.2,1303.3 L1518.7,1304.7 L1520.2,1306.0 L1521.7,1307.4 L1523.2,1308.7 L1524.7,1310.0 L1526.2,1311.4 L1527.7,1312.7 L1529.2,1314.1 L1530.6,1315.4 L1532.1,1316.8 L1533.6,1318.1 L1535.1,1319.5 L1536.5,1320.8 L1538.0,1322.2 L1539.5,1323.6 L1541.0,1324.9 L1542.4,1326.3 L1543.9,1327.7 L1545.3,1329.0 L1546.8,1330.4 L1548.3,1331.8 L1549.7,1333.1 L1551.2,1334.5 L1552.6,1335.9 L1554.1,1337.3 L1555.5,1338.7 L1557.0,1340.1 L1558.4,1341.4 L1559.8,1342.8 L1561.3,1344.2 L1562.7,1345.6 L1564.1,1347.0 L1565.6,1348.4 L1567.0,1349.8 L1568.4,1351.2 L1569.9,1352.6 L1571.3,1354.0 L1572.7,1355.4 L1574.2,1356.8 L1575.6,1358.2 L1577.0,1359.6 L1578.4,1361.0 L1579.8,1362.4 L1581.3,1363.8 L1582.7,1365.2 L1584.1,1366.6 L1585.5,1368.0 L1586.9,1369.5 L1588.3,1370.9 L1589.7,1372.3 L1591.1,1373.7 L1592.5,1375.1 L1593.9,1376.5 L1595.3,1377.9 L1596.7,1379.4 L1598.1,1380.8 L1599.5,1382.2 L1600.9,1383.6 L1602.3,1385.1 L1603.7,1386.5 L1605.1,1387.9 L1606.5,1389.3 L1607.9,1390.8 L1609.3,1392.2 L1610.7,1393.6 L1612.0,1395.0 L1613.4,1396.4 L1614.8,1397.9 L1616.2,1399.3 L1617.6,1400.7 L1619.0,1402.1 L1620.4,1403.6 L1621.8,1405.0 L1623.2,1406.4 L1624.6,1407.8 L1626.0,1409.3 L1627.4,1410.7 L1628.7,1412.1 L1630.1,1413.5 L1631.5,1415.0 L1632.9,1416.4 L1634.3,1417.8 L1635.7,1419.2 L1637.1,1420.7 L1638.4,1422.1 L1639.8,1423.5 L1641.2,1424.9 L1642.6,1426.4 L1644.0,1427.8 L1645.4,1429.2 L1646.8,1430.6 L1648.2,1432.1 L1649.5,1433.5 L1650.9,1434.9 L1652.3,1436.3 L1653.7,1437.8 L1655.1,1439.2 L1656.5,1440.6 L1657.9,1442.0 L1659.3,1443.4 L1660.7,1444.8 L1662.1,1446.2 L1663.5,1447.6 L1665.0,1449.1 L1666.4,1450.5 L1667.8,1451.9 L1669.2,1453.3 L1670.6,1454.7 L1672.0,1456.1 L1673.4,1457.5 L1674.8,1458.9 L1676.2,1460.3 L1677.6,1461.7 L1679.1,1463.1 L1680.5,1464.5 L1681.9,1465.9 L1683.3,1467.3 L1684.7,1468.7 L1686.2,1470.1 L1687.6,1471.5 L1689.0,1472.9 L1690.5,1474.3 L1691.9,1475.7 L1693.3,1477.1 L1694.8,1478.5 L1696.2,1479.9 L1697.7,1481.3 L1699.1,1482.6 L1700.6,1484.0 L1702.0,1485.4 L1703.5,1486.8 L1705.0,1488.1 L1706.4,1489.5 L1707.9,1490.9 L1709.4,1492.3 L1710.8,1493.6 L1712.3,1495.0 L1713.8,1496.4 L1715.3,1497.7 L1716.7,1499.1 L1718.2,1500.5 L1719.7,1501.8 L1721.2,1503.2 L1722.7,1504.5 L1724.2,1505.9 L1725.7,1507.2 L1727.2,1508.6 L1728.7,1509.9 L1730.2,1511.2 L1731.7,1512.6 L1733.2,1513.9 L1734.8,1515.2 L1736.3,1516.5 L1737.8,1517.8 L1739.3,1519.2 L1740.9,1520.5 L1742.4,1521.8 L1744.0,1523.1 L1745.5,1524.4 L1747.1,1525.7 L1748.6,1527.0 L1750.2,1528.3 L1751.8,1529.6 L1753.3,1530.9 L1754.9,1532.2 L1756.5,1533.5 L1758.1,1534.8 L1759.7,1536.1 L1761.2,1537.3 L1762.8,1538.6 L1764.4,1539.9 L1766.0,1541.1 L1767.6,1542.3 L1769.3,1543.6 L1770.9,1544.8 L1772.5,1546.0 L1774.1,1547.2 L1775.8,1548.4 L1777.4,1549.5 L1779.0,1550.7 L1780.7,1551.8 L1782.3,1552.9 L1784.0,1554.1 L1785.7,1555.2 L1787.3,1556.3 L1789.0,1557.5 L1790.7,1558.6 L1792.4,1559.7 L1794.1,1560.8 L1795.8,1561.9 L1797.5,1563.0 L1799.2,1564.0 L1800.9,1565.1 L1802.6,1566.1 L1804.3,1567.2 L1806.1,1568.2 L1807.8,1569.2 L1809.5,1570.1 L1811.3,1571.1 L1813.0,1572.0 L1814.8,1573.0 L1816.6,1573.8 L1818.3,1574.7 L1820.1,1575.6 L1821.9,1576.4 L1823.7,1577.2 L1825.5,1578.0 L1827.3,1578.8 L1829.1,1579.6 L1830.9,1580.4 L1832.7,1581.2 L1834.6,1582.0 L1836.4,1582.7 L1838.3,1583.5 L1840.1,1584.2 L1842.0,1584.9 L1843.8,1585.6 L1845.7,1586.3 L1847.6,1586.9 L1849.5,1587.5 L1851.3,1588.1 L1853.2,1588.7 L1855.1,1589.2 L1857.0,1589.8 L1858.9,1590.2 L1860.9,1590.7 L1862.8,1591.1 L1864.7,1591.6 L1866.7,1592.0 L1868.6,1592.3 L1870.6,1592.7 L1872.6,1593.0 L1874.6,1593.4 L1876.6,1593.7 L1878.6,1593.9 L1880.6,1594.2 L1880.6,1594.2 L1895.0,1594.6 L1950.0,1595.0 L2050.0,1595.2 L2100.0,1595.6 L2112.0,1597.8 L2140.0,1600.0 L2170.0,1601.6 L2194.8,1602.6"/>
<path class="cv" style="stroke-width:4.6;stroke-linecap:round" stroke="#ff00ff" d="M241.4,307 L241.2,297.2"/>
<path class="cv" stroke="#008000" d="M239.2,306.6 L241.2,306.6 L243.3,306.7 L245.3,306.7 L247.4,306.8 L249.5,306.8 L251.5,306.9 L253.6,307.0 L255.6,307.0 L257.6,307.1 L259.7,307.2 L261.7,307.3 L263.8,307.3 L265.8,307.4 L267.8,307.5 L269.8,307.6 L271.9,307.7 L273.9,307.8 L275.9,307.9 L277.9,308.0 L279.9,308.1 L282.0,308.2 L284.0,308.3 L286.0,308.4 L288.0,308.5 L290.0,308.6 L292.0,308.7 L294.0,308.8 L296.0,309.0 L298.0,309.1 L300.0,309.2 L301.9,309.4 L303.9,309.5 L305.9,309.6 L307.9,309.8 L309.9,309.9 L311.8,310.1 L313.8,310.3 L315.8,310.4 L317.7,310.6 L319.7,310.8 L321.7,311.0 L323.6,311.2 L325.6,311.4 L327.6,311.6 L329.5,311.8 L331.5,312.0 L333.4,312.3 L335.4,312.5 L337.4,312.8 L339.3,313.0 L341.3,313.3 L343.2,313.6 L345.1,313.8 L347.1,314.1 L349.0,314.4 L351.0,314.7 L352.9,315.0 L354.9,315.3 L356.8,315.7 L358.7,316.0 L360.7,316.3 L362.6,316.6 L364.6,317.0 L366.5,317.4 L368.4,317.7 L370.4,318.1 L372.3,318.5 L374.2,318.9 L376.1,319.3 L378.1,319.7 L380.0,320.1 L381.9,320.6 L383.9,321.0 L385.8,321.5 L387.7,321.9 L389.6,322.3 L391.6,322.8 L393.5,323.3 L395.4,323.7 L397.3,324.2 L399.3,324.7 L401.2,325.2 L403.1,325.7 L405.0,326.2 L407.0,326.7 L408.9,327.3 L410.8,327.8 L412.7,328.3 L414.7,328.9 L416.6,329.4 L418.5,330.0 L420.4,330.6 L422.4,331.1 L424.3,331.7 L426.2,332.2 L428.1,332.8 L430.1,333.3 L432.0,333.8 L433.9,334.4 L435.8,334.9 L437.8,335.5 L439.7,336.0 L441.6,336.6 L443.5,337.2 L445.5,337.7 L447.4,338.3 L449.3,338.8 L451.3,339.4 L453.2,339.9 L455.1,340.4 L457.1,341.0 L459.0,341.5 L460.9,342.0 L462.9,342.5 L464.8,343.0 L466.7,343.5 L468.7,344.0 L470.6,344.5 L472.6,345.0 L474.5,345.5 L476.5,345.9 L478.4,346.4 L480.4,346.8 L482.3,347.3 L484.3,347.7 L486.2,348.2 L488.2,348.6 L490.1,349.0 L492.1,349.5 L494.0,349.9 L496.0,350.3 L498.0,350.7 L499.9,351.1 L501.9,351.5 L503.8,351.9 L505.8,352.2 L507.8,352.6 L509.8,353.0 L511.7,353.3 L513.7,353.7 L515.7,354.0 L517.7,354.4 L519.6,354.7 L521.6,355.1 L523.6,355.4 L525.6,355.7 L527.6,356.0 L529.6,356.3 L531.5,356.6 L533.5,356.9 L535.5,357.2 L537.5,357.5 L539.5,357.8 L541.5,358.1 L543.5,358.4 L545.5,358.7 L547.5,359.0 L549.5,359.3 L551.5,359.6 L553.5,359.8 L555.5,360.1 L557.5,360.4 L559.4,360.7 L561.4,361.0 L563.4,361.3 L565.4,361.5 L567.4,361.8 L569.4,362.1 L571.4,362.4 L573.4,362.6 L575.4,362.9 L577.4,363.2 L579.4,363.4 L581.4,363.7 L583.4,364.0 L585.4,364.3 L587.4,364.5 L589.4,364.8 L591.4,365.1 L593.4,365.4 L595.4,365.7 L597.3,366.0 L599.3,366.3 L601.3,366.6 L603.3,366.9 L605.3,367.2 L607.3,367.5 L609.3,367.8 L611.2,368.1 L613.2,368.4 L615.2,368.7 L617.2,369.1 L619.2,369.4 L621.1,369.7 L623.1,370.0 L625.1,370.4 L627.1,370.7 L629.0,371.1 L631.0,371.4 L633.0,371.8 L634.9,372.1 L636.9,372.5 L638.8,372.9 L640.8,373.3 L642.7,373.7 L644.7,374.1 L646.6,374.5 L648.6,375.0 L650.5,375.4 L652.5,375.8 L654.4,376.2 L656.4,376.7 L658.3,377.1 L660.2,377.6 L662.2,378.0 L664.1,378.5 L666.0,378.9 L667.9,379.4 L669.8,379.9 L671.8,380.4 L673.7,380.9 L675.6,381.4 L677.5,381.9 L679.4,382.4 L681.3,382.9 L683.2,383.5 L685.1,384.0 L687.0,384.6 L688.8,385.1 L690.7,385.7 L692.6,386.3 L694.5,386.9 L696.3,387.5 L698.2,388.1 L700.1,388.7 L701.9,389.4 L703.8,390.0 L705.6,390.7 L707.5,391.4 L709.3,392.1 L711.1,392.8 L713.0,393.5 L714.8,394.3 L716.6,395.0 L718.4,395.8 L720.2,396.6 L722.0,397.4 L723.8,398.2 L725.6,399.0 L727.4,399.8 L729.2,400.7 L731.0,401.6 L732.8,402.5 L734.6,403.4 L736.3,404.3 L738.1,405.3 L739.9,406.3 L741.6,407.3 L743.3,408.3 L745.1,409.3 L746.8,410.3 L748.5,411.4 L750.2,412.4 L751.9,413.5 L753.6,414.6 L755.3,415.7 L757.0,416.9 L758.7,418.0 L760.4,419.2 L762.0,420.4 L763.7,421.5 L765.3,422.7 L766.9,423.9 L768.6,425.2 L770.2,426.4 L771.8,427.7 L773.4,428.9 L775.0,430.2 L776.6,431.5 L778.1,432.8 L779.7,434.1 L781.2,435.4 L782.8,436.8 L784.3,438.1 L785.8,439.5 L787.3,440.8 L788.8,442.2 L790.2,443.6 L791.7,445.0 L793.2,446.4 L794.6,447.8 L796.0,449.3 L797.5,450.7 L798.9,452.2 L800.3,453.6 L801.6,455.1 L803.0,456.6 L804.3,458.0 L805.7,459.5 L807.0,461.0 L808.3,462.5 L809.6,464.1 L810.9,465.6 L812.2,467.1 L813.4,468.7 L814.7,470.2 L816.0,471.8 L817.2,473.3 L818.4,474.9 L819.6,476.4 L820.9,478.0 L822.1,479.6 L823.3,481.2 L824.4,482.8 L825.6,484.4 L826.8,486.0 L827.9,487.6 L829.1,489.2 L830.2,490.8 L831.4,492.4 L832.5,494.1 L833.6,495.7 L834.8,497.3 L835.9,499.0 L837.0,500.6 L838.1,502.3 L839.3,503.9 L840.4,505.5 L841.5,507.2 L842.6,508.8 L843.7,510.5 L844.8,512.1 L845.9,513.8 L847.0,515.5 L848.0,517.1 L849.1,518.8 L850.2,520.4 L851.3,522.1 L852.4,523.8 L853.5,525.4 L854.6,527.1 L855.7,528.8 L856.8,530.4 L857.9,532.1 L859.0,533.7 L860.1,535.4 L861.2,537.1 L862.3,538.7 L863.4,540.4 L864.5,542.0 L865.6,543.7 L866.7,545.3 L867.8,547.0 L869.0,548.6 L870.1,550.2 L871.2,551.9 L872.4,553.5 L873.5,555.2 L874.7,556.8 L875.8,558.4 L877.0,560.1 L878.1,561.7 L879.3,563.3 L880.5,564.9 L881.6,566.5 L882.8,568.2 L884.0,569.8 L885.1,571.4 L886.3,573.0 L887.5,574.6 L888.7,576.2 L889.8,577.8 L891.0,579.4 L892.2,581.0 L893.4,582.6 L894.6,584.2 L895.8,585.8 L897.0,587.3 L898.2,588.9 L899.5,590.5 L900.7,592.1 L901.9,593.6 L903.1,595.2 L904.4,596.8 L905.6,598.3 L906.9,599.9 L908.1,601.5 L909.4,603.0 L910.7,604.6 L911.9,606.1 L913.2,607.7 L914.5,609.2 L915.8,610.8 L917.1,612.3 L918.4,613.8 L919.7,615.4 L921.0,616.9 L922.3,618.4 L923.7,619.9 L925.0,621.5 L926.3,623.0 L927.7,624.5 L929.0,626.0 L930.3,627.5 L931.7,629.0 L933.0,630.5 L934.4,632.0 L935.7,633.5 L937.1,635.0 L938.4,636.5 L939.8,638.0 L941.2,639.4 L942.5,640.9 L943.9,642.4 L945.3,643.9 L946.6,645.3 L948.0,646.8 L949.4,648.2 L950.7,649.7 L952.1,651.2 L953.5,652.6 L954.9,654.0 L956.2,655.5 L957.6,656.9 L959.0,658.4 L960.4,659.8 L961.7,661.2 L963.1,662.6 L964.5,664.1 L965.8,665.5 L967.2,666.9 L968.6,668.3 L969.9,669.7 L971.3,671.1 L972.0,671.8 L972.8,673.5 L973.7,675.3 L974.6,677.0 L975.5,678.8 L976.4,680.5 L977.3,682.3 L978.2,684.1 L979.1,685.8 L980.0,687.6 L980.9,689.3 L981.8,691.1 L982.7,692.8 L983.7,694.6 L984.6,696.3 L985.5,698.0 L986.5,699.8 L987.4,701.5 L988.3,703.3 L989.3,705.0 L990.2,706.8 L991.2,708.5 L992.1,710.3 L993.1,712.0 L994.0,713.8 L995.0,715.5 L995.9,717.3 L996.9,719.0 L997.9,720.8 L998.8,722.5 L999.8,724.2 L1000.8,726.0 L1001.7,727.7 L1002.7,729.5 L1003.7,731.2 L1004.7,733.0 L1005.7,734.7 L1006.6,736.5 L1007.6,738.2 L1008.6,739.9 L1009.6,741.7 L1010.6,743.4 L1011.6,745.2 L1012.6,746.9 L1013.5,748.7 L1014.5,750.4 L1015.5,752.2 L1016.5,753.9 L1017.5,755.7 L1018.5,757.4 L1019.5,759.2 L1020.5,760.9 L1021.5,762.7 L1022.5,764.4 L1023.5,766.2 L1024.5,767.9 L1025.5,769.7 L1026.4,771.4 L1027.4,773.2 L1028.4,774.9 L1029.4,776.7 L1030.4,778.4 L1031.4,780.2 L1032.4,781.9 L1033.4,783.7 L1034.4,785.4 L1035.4,787.2 L1036.3,788.9 L1037.3,790.7 L1038.3,792.5 L1039.3,794.2 L1040.3,796.0 L1041.3,797.7 L1042.2,799.5 L1043.2,801.3 L1044.2,803.0 L1045.1,804.8 L1046.1,806.6 L1047.1,808.3 L1048.0,810.1 L1049.0,811.9 L1050.0,813.6 L1050.9,815.4 L1051.9,817.2 L1052.8,818.9 L1053.8,820.7 L1054.7,822.5 L1055.7,824.3 L1056.6,826.0 L1057.6,827.8 L1058.5,829.6 L1059.5,831.4 L1060.4,833.2 L1061.3,834.9 L1062.2,836.7 L1063.2,838.5 L1064.1,840.3 L1065.0,842.1 L1065.9,843.9 L1066.8,845.7 L1067.7,847.4 L1068.6,849.2 L1069.5,851.0 L1070.4,852.8 L1071.3,854.6 L1072.2,856.4 L1073.1,858.2 L1074.0,860.0 L1074.9,861.8 L1075.7,863.6 L1076.6,865.4 L1077.5,867.2 L1078.4,869.0 L1079.2,870.8 L1080.1,872.6 L1081.0,874.4 L1081.9,876.2 L1082.7,878.0 L1083.6,879.8 L1084.5,881.6 L1085.3,883.4 L1086.2,885.2 L1087.0,887.0 L1087.9,888.8 L1088.8,890.6 L1089.6,892.4 L1090.5,894.2 L1091.3,896.0 L1092.2,897.8 L1093.0,899.6 L1093.9,901.4 L1094.7,903.2 L1095.6,905.0 L1096.4,906.8 L1097.3,908.7 L1098.1,910.5 L1099.0,912.3 L1099.8,914.1 L1100.7,915.9 L1101.5,917.7 L1102.3,919.5 L1103.2,921.3 L1104.0,923.1 L1104.9,924.9 L1105.7,926.7 L1106.6,928.5 L1107.4,930.3 L1108.3,932.1 L1109.2,933.9 L1110.0,935.7 L1110.9,937.5 L1111.7,939.3 L1112.6,941.1 L1113.4,942.9 L1114.3,944.6 L1115.2,946.4 L1116.0,948.2 L1116.9,950.0 L1117.8,951.8 L1118.6,953.6 L1119.5,955.4 L1120.4,957.1 L1121.3,958.9 L1122.1,960.7 L1123.0,962.5 L1123.9,964.3 L1124.8,966.0 L1125.7,967.8 L1126.5,969.6 L1127.4,971.4 L1128.3,973.1 L1129.2,974.9 L1130.1,976.7 L1131.0,978.4 L1131.9,980.2 L1132.8,982.0 L1133.7,983.7 L1134.6,985.5 L1135.5,987.3 L1136.4,989.0 L1137.3,990.8 L1138.3,992.5 L1139.2,994.3 L1140.1,996.0 L1141.0,997.7 L1142.0,999.5 L1142.9,1001.2 L1143.9,1003.0 L1144.8,1004.7 L1145.8,1006.4 L1146.7,1008.2 L1147.7,1009.9 L1148.6,1011.6 L1149.6,1013.4 L1150.6,1015.1 L1151.6,1016.8 L1152.6,1018.5 L1153.5,1020.2 L1154.5,1021.9 L1155.5,1023.7 L1156.6,1025.4 L1157.6,1027.1 L1158.6,1028.8 L1159.6,1030.5 L1160.7,1032.2 L1161.7,1033.9 L1162.8,1035.5 L1163.8,1037.2 L1164.9,1038.9 L1166.0,1040.6 L1167.0,1042.3 L1168.1,1044.0 L1169.2,1045.6 L1170.3,1047.3 L1171.4,1049.0 L1172.6,1050.6 L1173.7,1052.3 L1174.8,1053.9 L1176.0,1055.6 L1177.1,1057.2 L1178.3,1058.9 L1179.5,1060.5 L1180.7,1062.2 L1181.9,1063.8 L1183.1,1065.4 L1184.3,1067.1 L1185.5,1068.7 L1186.7,1070.3 L1188.0,1071.9 L1189.2,1073.5 L1190.5,1075.1 L1191.8,1076.7 L1193.1,1078.3 L1193.9,1079.4 L1194.7,1081.3 L1195.5,1083.1 L1196.4,1084.8 L1197.4,1086.6 L1198.4,1088.3 L1199.4,1090.0 L1200.5,1091.6 L1201.6,1093.2 L1202.8,1094.8 L1204.0,1096.3 L1205.3,1097.8 L1206.7,1099.3 L1208.1,1100.7 L1209.6,1102.2 L1211.0,1103.5 L1212.5,1104.9 L1214.0,1106.2 L1215.6,1107.5 L1217.1,1108.8 L1218.7,1110.1 L1220.3,1111.3 L1222.0,1112.5 L1223.6,1113.7 L1225.2,1114.9 L1226.8,1116.0 L1228.5,1117.1 L1230.1,1118.2 L1231.8,1119.3 L1233.5,1120.4 L1235.1,1121.5 L1236.8,1122.5 L1238.5,1123.6 L1240.2,1124.6 L1241.9,1125.6 L1243.6,1126.6 L1245.3,1127.6 L1247.0,1128.6 L1248.7,1129.5 L1250.4,1130.5 L1252.1,1131.4 L1253.9,1132.4 L1255.6,1133.3 L1257.3,1134.2 L1259.0,1135.2 L1260.8,1136.1 L1262.5,1137.1 L1264.2,1138.0 L1266.0,1138.9 L1267.7,1139.8 L1269.5,1140.8 L1271.2,1141.7 L1273.0,1142.6 L1274.7,1143.5 L1276.5,1144.4 L1278.2,1145.4 L1279.9,1146.3 L1281.7,1147.2 L1283.4,1148.2 L1285.2,1149.2 L1286.9,1150.1 L1288.6,1151.1 L1290.4,1152.1 L1292.1,1153.1 L1293.9,1154.2 L1295.6,1155.2 L1297.3,1156.2 L1299.1,1157.3 L1300.8,1158.3 L1302.5,1159.3 L1304.2,1160.4 L1306.0,1161.5 L1307.7,1162.5 L1309.4,1163.6 L1311.1,1164.6 L1312.9,1165.7 L1314.6,1166.8 L1316.3,1167.8 L1318.0,1168.9 L1319.7,1170.0 L1321.4,1171.1 L1323.1,1172.2 L1324.9,1173.3 L1326.6,1174.4 L1328.3,1175.5 L1330.0,1176.6 L1331.7,1177.7 L1333.4,1178.8 L1335.1,1179.9 L1336.8,1181.0 L1338.5,1182.1 L1340.1,1183.2 L1341.8,1184.3 L1343.5,1185.4 L1345.2,1186.5 L1346.9,1187.6 L1348.6,1188.7 L1350.3,1189.8 L1351.9,1190.8 L1353.6,1191.9 L1355.3,1193.0 L1357.0,1194.1 L1358.6,1195.2 L1360.3,1196.2 L1362.0,1197.3 L1363.6,1198.4 L1365.3,1199.5 L1367.0,1200.6 L1368.6,1201.7 L1370.3,1202.8 L1372.0,1203.9 L1373.6,1205.0 L1375.3,1206.1 L1376.9,1207.2 L1378.6,1208.3 L1380.2,1209.4 L1381.8,1210.6 L1383.5,1211.7 L1385.1,1212.8 L1386.8,1214.0 L1388.4,1215.1 L1390.0,1216.3 L1391.7,1217.4 L1393.3,1218.6 L1394.9,1219.7 L1396.6,1220.9 L1398.2,1222.1 L1399.8,1223.2 L1401.4,1224.4 L1403.0,1225.6 L1404.7,1226.8 L1406.3,1227.9 L1407.9,1229.1 L1409.5,1230.3 L1411.1,1231.5 L1412.7,1232.7 L1414.3,1233.9 L1415.9,1235.1 L1417.5,1236.3 L1419.1,1237.5 L1420.7,1238.7 L1422.3,1239.9 L1423.9,1241.2 L1425.4,1242.4 L1427.0,1243.6 L1428.6,1244.9 L1430.2,1246.1 L1431.8,1247.4 L1433.3,1248.6 L1434.9,1249.9 L1436.5,1251.1 L1438.0,1252.4 L1439.6,1253.6 L1441.2,1254.9 L1442.7,1256.2 L1444.3,1257.5 L1445.8,1258.7 L1447.4,1260.0 L1448.9,1261.3 L1450.5,1262.6 L1452.0,1263.9 L1453.6,1265.1 L1455.1,1266.4 L1456.7,1267.7 L1458.2,1269.0 L1459.7,1270.3 L1461.2,1271.6 L1462.8,1272.9 L1464.3,1274.2 L1465.8,1275.5 L1467.3,1276.8 L1468.8,1278.2 L1470.3,1279.5 L1471.9,1280.8 L1473.4,1282.1 L1474.9,1283.5 L1476.4,1284.8 L1477.9,1286.1 L1479.4,1287.4 L1480.9,1288.8 L1482.3,1290.1 L1483.8,1291.5 L1485.3,1292.8 L1486.8,1294.2 L1488.3,1295.5 L1489.8,1296.9 L1491.2,1298.2 L1492.7,1299.6 L1494.2,1300.9 L1495.6,1302.3 L1497.1,1303.6 L1498.6,1305.0 L1500.0,1306.3 L1501.5,1307.7 L1502.9,1309.1 L1504.4,1310.4 L1505.8,1311.8 L1507.3,1313.2 L1508.7,1314.5 L1510.1,1315.9 L1511.6,1317.3 L1513.0,1318.7 L1514.4,1320.0 L1515.8,1321.4 L1517.3,1322.8 L1518.7,1324.2 L1520.1,1325.6 L1521.5,1326.9 L1522.9,1328.3 L1524.3,1329.7 L1525.8,1331.1 L1527.2,1332.5 L1528.6,1333.9 L1530.0,1335.3 L1531.4,1336.7 L1532.8,1338.1 L1534.2,1339.5 L1535.6,1340.9 L1537.0,1342.3 L1538.4,1343.7 L1539.7,1345.1 L1541.1,1346.5 L1542.5,1348.0 L1543.9,1349.4 L1545.3,1350.8 L1546.7,1352.2 L1548.1,1353.6 L1549.4,1355.0 L1550.8,1356.5 L1552.2,1357.9 L1553.6,1359.3 L1554.9,1360.7 L1556.3,1362.2 L1557.7,1363.6 L1559.0,1365.0 L1560.4,1366.5 L1561.7,1367.9 L1563.1,1369.3 L1564.5,1370.8 L1565.8,1372.2 L1567.2,1373.6 L1568.5,1375.1 L1569.9,1376.5 L1571.3,1378.0 L1572.6,1379.4 L1574.0,1380.9 L1575.3,1382.3 L1576.7,1383.8 L1578.0,1385.2 L1579.4,1386.7 L1580.8,1388.1 L1582.1,1389.6 L1583.5,1391.0 L1584.8,1392.5 L1586.2,1394.0 L1587.5,1395.4 L1588.9,1396.9 L1590.2,1398.4 L1591.6,1399.8 L1592.9,1401.3 L1594.2,1402.8 L1595.6,1404.3 L1596.9,1405.7 L1598.3,1407.2 L1599.6,1408.7 L1601.0,1410.2 L1602.3,1411.6 L1603.7,1413.1 L1605.0,1414.6 L1606.3,1416.1 L1607.7,1417.6 L1609.0,1419.1 L1610.4,1420.5 L1611.7,1422.0 L1613.1,1423.5 L1614.4,1425.0 L1615.8,1426.5 L1617.1,1428.0 L1618.5,1429.5 L1619.8,1431.0 L1621.2,1432.5 L1622.6,1434.0 L1623.9,1435.5 L1625.3,1437.0 L1626.6,1438.5 L1628.0,1440.0 L1629.3,1441.5 L1630.7,1443.0 L1632.0,1444.5 L1633.4,1446.0 L1634.8,1447.5 L1636.1,1449.0 L1637.5,1450.5 L1638.8,1452.1 L1640.2,1453.6 L1641.5,1455.1 L1642.9,1456.6 L1644.3,1458.1 L1645.6,1459.6 L1647.0,1461.1 L1648.4,1462.6 L1649.7,1464.1 L1651.1,1465.6 L1652.5,1467.1 L1653.9,1468.6 L1655.2,1470.1 L1656.6,1471.6 L1658.0,1473.1 L1659.4,1474.6 L1660.8,1476.0 L1662.2,1477.5 L1663.6,1479.0 L1665.0,1480.5 L1666.3,1481.9 L1667.7,1483.4 L1669.1,1484.9 L1670.5,1486.4 L1671.9,1487.8 L1673.3,1489.3 L1674.7,1490.8 L1676.1,1492.3 L1677.5,1493.7 L1679.0,1495.2 L1680.4,1496.6 L1681.8,1498.1 L1683.2,1499.6 L1684.6,1501.0 L1686.0,1502.4 L1687.5,1503.9 L1688.9,1505.3 L1690.3,1506.7 L1691.7,1508.2 L1693.2,1509.6 L1694.6,1511.0 L1696.0,1512.4 L1697.5,1513.8 L1698.9,1515.2 L1700.4,1516.5 L1701.8,1517.9 L1703.3,1519.3 L1704.8,1520.6 L1706.2,1522.0 L1707.7,1523.3 L1709.2,1524.7 L1710.6,1526.0 L1712.1,1527.4 L1713.6,1528.7 L1715.1,1530.0 L1716.6,1531.4 L1718.0,1532.7 L1719.5,1534.0 L1721.0,1535.3 L1722.5,1536.6 L1724.0,1537.9 L1725.5,1539.2 L1727.0,1540.5 L1728.5,1541.8 L1730.0,1543.0 L1731.6,1544.3 L1733.1,1545.6 L1734.6,1546.8 L1736.1,1548.1 L1737.7,1549.3 L1739.2,1550.5 L1740.7,1551.7 L1742.3,1553.0 L1743.8,1554.2 L1745.4,1555.3 L1746.9,1556.5 L1748.5,1557.7 L1750.1,1558.8 L1751.6,1559.9 L1753.2,1561.1 L1754.8,1562.2 L1756.4,1563.3 L1758.0,1564.3 L1759.7,1565.4 L1761.3,1566.4 L1763.0,1567.4 L1764.6,1568.4 L1766.3,1569.4 L1768.0,1570.4 L1769.7,1571.3 L1771.4,1572.3 L1773.1,1573.2 L1774.8,1574.0 L1776.6,1574.9 L1778.3,1575.7 L1780.1,1576.4 L1781.9,1577.1 L1783.8,1577.9 L1785.6,1578.6 L1787.5,1579.3 L1789.3,1580.0 L1791.2,1580.7 L1793.1,1581.4 L1795.0,1582.0 L1796.9,1582.7 L1798.9,1583.3 L1800.8,1583.9 L1802.7,1584.5 L1804.7,1585.1 L1806.6,1585.6 L1808.6,1586.1 L1810.6,1586.6 L1812.5,1587.1 L1814.5,1587.5 L1816.5,1587.9 L1818.4,1588.3 L1820.4,1588.6 L1822.4,1589.0 L1824.4,1589.3 L1826.4,1589.6 L1828.4,1590.0 L1830.4,1590.3 L1832.4,1590.6 L1834.5,1590.9 L1836.5,1591.1 L1838.5,1591.4 L1840.6,1591.7 L1842.6,1591.9 L1844.7,1592.1 L1846.7,1592.4 L1848.7,1592.6 L1850.8,1592.8 L1852.8,1592.9 L1854.8,1593.1 L1856.9,1593.2 L1858.9,1593.4 L1860.9,1593.5 L1862.9,1593.6 L1864.9,1593.7 L1866.9,1593.8 L1868.9,1593.8 L1870.9,1593.9 L1872.9,1594.0 L1874.9,1594.0 L1875.0,1594.0 L1915.0,1593.8 L1925.0,1592.8 L1960.0,1592.8 L2000.0,1593.6 L2060.0,1594.4 L2100.0,1595.2 L2107.5,1596.2"/>
</g>
<g class="tk">
<text transform="translate(191.5,1625.6) scale(1,1.07)" text-anchor="end">0</text>
<text transform="translate(191.5,1365.0) scale(1,1.07)" text-anchor="end">20</text>
<text transform="translate(191.5,1104.4) scale(1,1.07)" text-anchor="end">40</text>
<text transform="translate(191.5,843.9) scale(1,1.07)" text-anchor="end">60</text>
<text transform="translate(191.5,583.3) scale(1,1.07)" text-anchor="end">80</text>
<text transform="translate(191.5,322.7) scale(1,1.07)" text-anchor="end">100</text>
<text transform="translate(492.8,1702.3) scale(1,1.07)" text-anchor="middle">200</text>
<text transform="translate(819.9,1702.3) scale(1,1.07)" text-anchor="middle">300</text>
<text transform="translate(1147.0,1702.3) scale(1,1.07)" text-anchor="middle">400</text>
<text transform="translate(1474.1,1702.3) scale(1,1.07)" text-anchor="middle">500</text>
<text transform="translate(1801.2,1702.3) scale(1,1.07)" text-anchor="middle">600</text>
<text transform="translate(2128.3,1702.3) scale(1,1.07)" text-anchor="middle">700</text>
</g>
<text class="tt" transform="translate(67.2,1097.5) rotate(-90) scale(1,1.035)">Weight (%)</text>
<text class="tt" transform="translate(1125.5,1826.6) scale(1,1.035)"><tspan x="0" y="0">T (</tspan><tspan x="86.4" y="-36.23" style="font-size:39.7px" textLength="24.47" lengthAdjust="spacingAndGlyphs">o</tspan><tspan x="108.7" y="0">C</tspan><tspan x="162.2" y="0">)</tspan></text>
<rect x="1453.3" y="26.7" width="893.3" height="444.8" fill="#fff" stroke="#000" stroke-width="2.8"/>
<path class="ls" stroke="#000000" d="M1519,86.0 L1676.8,86.0"/>
<text class="lg" transform="translate(1695.0,109.3) scale(1,1.04)">oxCNTs</text>
<path class="ls" stroke="#ff0000" d="M1519,172.4 L1676.8,172.4"/>
<text class="lg" transform="translate(1695.0,195.8) scale(1,1.04)">oxCNTs@GPEI5K</text>
<path class="ls" stroke="#0000ff" d="M1519,258.9 L1676.8,258.9"/>
<text class="lg" transform="translate(1695.0,282.2) scale(1,1.04)">oxCNTs@GPEI25K</text>
<path class="ls" stroke="#ff00ff" d="M1519,345.4 L1676.8,345.4"/>
<text class="lg" transform="translate(1695.0,368.7) scale(1,1.04)">GPEI25K</text>
<path class="ls" stroke="#008000" d="M1519,431.8 L1676.8,431.8"/>
<text class="lg" transform="translate(1695.0,455.1) scale(1,1.04)">GPEI5K</text>
</svg></body></html>
